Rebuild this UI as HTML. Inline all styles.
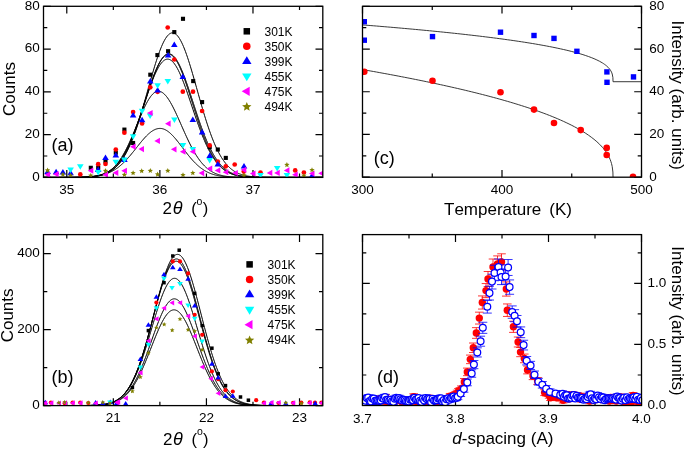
<!DOCTYPE html><html><head><meta charset="utf-8"><style>html,body{margin:0;padding:0;background:#fff;overflow:hidden}svg{display:block;will-change:transform}text{font-family:"Liberation Sans",sans-serif;fill:#000;font-kerning:none}</style></head><body>
<svg width="685" height="449" viewBox="0 0 685 449">
<defs>
<clipPath id="ca"><rect x="43.5" y="6.3" width="279.30" height="171.10"/></clipPath>
<clipPath id="cb"><rect x="43.5" y="234.6" width="279.30" height="171.00"/></clipPath>
<clipPath id="cc"><rect x="362.5" y="6.3" width="279.00" height="170.90"/></clipPath>
<clipPath id="cd"><rect x="362.5" y="234.6" width="279.00" height="170.90"/></clipPath>
</defs>
<rect width="685" height="449" fill="#fff"/>
<path d="M66.78 177.40v-7.3M66.78 6.30v7.3M159.88 177.40v-7.3M159.88 6.30v7.3M252.98 177.40v-7.3M252.98 6.30v7.3M113.33 177.40v-3.8M113.33 6.30v3.8M206.43 177.40v-3.8M206.43 6.30v3.8M299.52 177.40v-3.8M299.52 6.30v3.8M43.50 177.40h7.3M322.80 177.40h-7.3M43.50 134.62h7.3M322.80 134.62h-7.3M43.50 91.85h7.3M322.80 91.85h-7.3M43.50 49.08h7.3M322.80 49.08h-7.3M43.50 6.30h7.3M322.80 6.30h-7.3M43.50 156.01h3.8M322.80 156.01h-3.8M43.50 113.24h3.8M322.80 113.24h-3.8M43.50 70.46h3.8M322.80 70.46h-3.8M43.50 27.69h3.8M322.80 27.69h-3.8" stroke="#000" stroke-width="1.2" fill="none"/>
<path d="M43.50 177.40L44.50 177.40L45.50 177.40L46.50 177.40L47.50 177.40L48.50 177.40L49.50 177.40L50.50 177.40L51.50 177.40L52.50 177.40L53.50 177.40L54.50 177.40L55.50 177.40L56.50 177.40L57.50 177.40L58.50 177.40L59.50 177.40L60.50 177.40L61.50 177.39L62.50 177.39L63.50 177.39L64.50 177.39L65.50 177.39L66.50 177.39L67.50 177.38L68.50 177.38L69.50 177.38L70.50 177.37L71.50 177.37L72.50 177.36L73.50 177.36L74.50 177.35L75.50 177.34L76.50 177.33L77.50 177.32L78.50 177.30L79.50 177.29L80.50 177.27L81.50 177.25L82.50 177.22L83.50 177.19L84.50 177.16L85.50 177.12L86.50 177.08L87.50 177.03L88.50 176.98L89.50 176.91L90.50 176.84L91.50 176.76L92.50 176.67L93.50 176.57L94.50 176.45L95.50 176.32L96.50 176.18L97.50 176.01L98.50 175.83L99.50 175.63L100.50 175.40L101.50 175.15L102.50 174.88L103.50 174.57L104.50 174.23L105.50 173.86L106.50 173.45L107.50 172.99L108.50 172.50L109.50 171.96L110.50 171.36L111.50 170.72L112.50 170.02L113.50 169.25L114.50 168.43L115.50 167.53L116.50 166.57L117.50 165.52L118.50 164.41L119.50 163.20L120.50 161.92L121.50 160.54L122.50 159.08L123.50 157.51L124.50 155.85L125.50 154.09L126.50 152.23L127.50 150.27L128.50 148.20L129.50 146.02L130.50 143.74L131.50 141.35L132.50 138.85L133.50 136.25L134.50 133.55L135.50 130.75L136.50 127.85L137.50 124.85L138.50 121.77L139.50 118.60L140.50 115.36L141.50 112.05L142.50 108.67L143.50 105.23L144.50 101.75L145.50 98.24L146.50 94.69L147.50 91.13L148.50 87.57L149.50 84.01L150.50 80.48L151.50 76.97L152.50 73.51L153.50 70.11L154.50 66.78L155.50 63.53L156.50 60.38L157.50 57.35L158.50 54.44L159.50 51.66L160.50 49.04L161.50 46.58L162.50 44.29L163.50 42.18L164.50 40.27L165.50 38.56L166.50 37.06L167.50 35.78L168.50 34.72L169.50 33.89L170.50 33.30L171.50 32.94L172.50 32.82L173.50 32.94L174.50 33.30L175.50 33.89L176.50 34.72L177.50 35.78L178.50 37.06L179.50 38.56L180.50 40.27L181.50 42.18L182.50 44.29L183.50 46.58L184.50 49.04L185.50 51.66L186.50 54.44L187.50 57.35L188.50 60.38L189.50 63.53L190.50 66.78L191.50 70.11L192.50 73.51L193.50 76.97L194.50 80.48L195.50 84.01L196.50 87.57L197.50 91.13L198.50 94.69L199.50 98.24L200.50 101.75L201.50 105.23L202.50 108.67L203.50 112.05L204.50 115.36L205.50 118.60L206.50 121.77L207.50 124.85L208.50 127.85L209.50 130.75L210.50 133.55L211.50 136.25L212.50 138.85L213.50 141.35L214.50 143.74L215.50 146.02L216.50 148.20L217.50 150.27L218.50 152.23L219.50 154.09L220.50 155.85L221.50 157.51L222.50 159.08L223.50 160.54L224.50 161.92L225.50 163.20L226.50 164.41L227.50 165.52L228.50 166.57L229.50 167.53L230.50 168.43L231.50 169.25L232.50 170.02L233.50 170.72L234.50 171.36L235.50 171.96L236.50 172.50L237.50 172.99L238.50 173.45L239.50 173.86L240.50 174.23L241.50 174.57L242.50 174.88L243.50 175.15L244.50 175.40L245.50 175.63L246.50 175.83L247.50 176.01L248.50 176.18L249.50 176.32L250.50 176.45L251.50 176.57L252.50 176.67L253.50 176.76L254.50 176.84L255.50 176.91L256.50 176.98L257.50 177.03L258.50 177.08L259.50 177.12L260.50 177.16L261.50 177.19L262.50 177.22L263.50 177.25L264.50 177.27L265.50 177.29L266.50 177.30L267.50 177.32L268.50 177.33L269.50 177.34L270.50 177.35L271.50 177.36L272.50 177.36L273.50 177.37L274.50 177.37L275.50 177.38L276.50 177.38L277.50 177.38L278.50 177.39L279.50 177.39L280.50 177.39L281.50 177.39L282.50 177.39L283.50 177.39L284.50 177.40L285.50 177.40L286.50 177.40L287.50 177.40L288.50 177.40L289.50 177.40L290.50 177.40L291.50 177.40L292.50 177.40L293.50 177.40L294.50 177.40L295.50 177.40L296.50 177.40L297.50 177.40L298.50 177.40L299.50 177.40L300.50 177.40L301.50 177.40L302.50 177.40L303.50 177.40L304.50 177.40L305.50 177.40L306.50 177.40L307.50 177.40L308.50 177.40L309.50 177.40L310.50 177.40L311.50 177.40L312.50 177.40L313.50 177.40L314.50 177.40L315.50 177.40L316.50 177.40L317.50 177.40L318.50 177.40L319.50 177.40L320.50 177.40L321.50 177.40L322.50 177.40M43.50 177.40L44.50 177.40L45.50 177.40L46.50 177.40L47.50 177.40L48.50 177.40L49.50 177.40L50.50 177.40L51.50 177.40L52.50 177.40L53.50 177.40L54.50 177.40L55.50 177.40L56.50 177.40L57.50 177.40L58.50 177.40L59.50 177.40L60.50 177.39L61.50 177.39L62.50 177.39L63.50 177.39L64.50 177.39L65.50 177.39L66.50 177.38L67.50 177.38L68.50 177.38L69.50 177.37L70.50 177.37L71.50 177.36L72.50 177.35L73.50 177.34L74.50 177.33L75.50 177.32L76.50 177.31L77.50 177.29L78.50 177.28L79.50 177.26L80.50 177.23L81.50 177.21L82.50 177.17L83.50 177.14L84.50 177.10L85.50 177.05L86.50 177.00L87.50 176.94L88.50 176.87L89.50 176.80L90.50 176.71L91.50 176.62L92.50 176.51L93.50 176.38L94.50 176.25L95.50 176.09L96.50 175.92L97.50 175.73L98.50 175.52L99.50 175.28L100.50 175.02L101.50 174.73L102.50 174.41L103.50 174.06L104.50 173.67L105.50 173.24L106.50 172.78L107.50 172.27L108.50 171.71L109.50 171.11L110.50 170.45L111.50 169.73L112.50 168.96L113.50 168.12L114.50 167.22L115.50 166.25L116.50 165.20L117.50 164.09L118.50 162.89L119.50 161.61L120.50 160.25L121.50 158.81L122.50 157.27L123.50 155.65L124.50 153.94L125.50 152.13L126.50 150.23L127.50 148.24L128.50 146.15L129.50 143.97L130.50 141.70L131.50 139.34L132.50 136.89L133.50 134.36L134.50 131.75L135.50 129.06L136.50 126.30L137.50 123.47L138.50 120.58L139.50 117.64L140.50 114.66L141.50 111.63L142.50 108.58L143.50 105.50L144.50 102.42L145.50 99.34L146.50 96.26L147.50 93.21L148.50 90.19L149.50 87.22L150.50 84.30L151.50 81.45L152.50 78.69L153.50 76.01L154.50 73.43L155.50 70.98L156.50 68.64L157.50 66.45L158.50 64.40L159.50 62.51L160.50 60.79L161.50 59.23L162.50 57.87L163.50 56.69L164.50 55.70L165.50 54.91L166.50 54.33L167.50 53.96L168.50 53.79L169.50 53.83L170.50 54.08L171.50 54.54L172.50 55.20L173.50 56.07L174.50 57.13L175.50 58.39L176.50 59.83L177.50 61.45L178.50 63.25L179.50 65.20L180.50 67.31L181.50 69.56L182.50 71.95L183.50 74.45L184.50 77.07L185.50 79.78L186.50 82.58L187.50 85.46L188.50 88.40L189.50 91.40L190.50 94.43L191.50 97.49L192.50 100.57L193.50 103.65L194.50 106.74L195.50 109.80L196.50 112.85L197.50 115.86L198.50 118.83L199.50 121.75L200.50 124.61L201.50 127.41L202.50 130.14L203.50 132.80L204.50 135.38L205.50 137.88L206.50 140.30L207.50 142.62L208.50 144.85L209.50 147.00L210.50 149.05L211.50 151.00L212.50 152.86L213.50 154.63L214.50 156.31L215.50 157.90L216.50 159.40L217.50 160.81L218.50 162.13L219.50 163.38L220.50 164.54L221.50 165.63L222.50 166.64L223.50 167.59L224.50 168.46L225.50 169.27L226.50 170.02L227.50 170.72L228.50 171.35L229.50 171.94L230.50 172.48L231.50 172.97L232.50 173.42L233.50 173.83L234.50 174.20L235.50 174.54L236.50 174.85L237.50 175.13L238.50 175.38L239.50 175.61L240.50 175.81L241.50 175.99L242.50 176.16L243.50 176.30L244.50 176.43L245.50 176.55L246.50 176.66L247.50 176.75L248.50 176.83L249.50 176.90L250.50 176.97L251.50 177.02L252.50 177.07L253.50 177.12L254.50 177.15L255.50 177.19L256.50 177.22L257.50 177.24L258.50 177.26L259.50 177.28L260.50 177.30L261.50 177.31L262.50 177.33L263.50 177.34L264.50 177.35L265.50 177.35L266.50 177.36L267.50 177.37L268.50 177.37L269.50 177.38L270.50 177.38L271.50 177.38L272.50 177.39L273.50 177.39L274.50 177.39L275.50 177.39L276.50 177.39L277.50 177.39L278.50 177.40L279.50 177.40L280.50 177.40L281.50 177.40L282.50 177.40L283.50 177.40L284.50 177.40L285.50 177.40L286.50 177.40L287.50 177.40L288.50 177.40L289.50 177.40L290.50 177.40L291.50 177.40L292.50 177.40L293.50 177.40L294.50 177.40L295.50 177.40L296.50 177.40L297.50 177.40L298.50 177.40L299.50 177.40L300.50 177.40L301.50 177.40L302.50 177.40L303.50 177.40L304.50 177.40L305.50 177.40L306.50 177.40L307.50 177.40L308.50 177.40L309.50 177.40L310.50 177.40L311.50 177.40L312.50 177.40L313.50 177.40L314.50 177.40L315.50 177.40L316.50 177.40L317.50 177.40L318.50 177.40L319.50 177.40L320.50 177.40L321.50 177.40L322.50 177.40M43.50 177.40L44.50 177.40L45.50 177.40L46.50 177.40L47.50 177.40L48.50 177.40L49.50 177.40L50.50 177.40L51.50 177.40L52.50 177.40L53.50 177.40L54.50 177.40L55.50 177.40L56.50 177.40L57.50 177.40L58.50 177.40L59.50 177.40L60.50 177.40L61.50 177.40L62.50 177.39L63.50 177.39L64.50 177.39L65.50 177.39L66.50 177.39L67.50 177.39L68.50 177.38L69.50 177.38L70.50 177.38L71.50 177.37L72.50 177.37L73.50 177.36L74.50 177.35L75.50 177.35L76.50 177.34L77.50 177.32L78.50 177.31L79.50 177.29L80.50 177.28L81.50 177.26L82.50 177.23L83.50 177.20L84.50 177.17L85.50 177.14L86.50 177.09L87.50 177.05L88.50 176.99L89.50 176.93L90.50 176.86L91.50 176.78L92.50 176.69L93.50 176.59L94.50 176.47L95.50 176.34L96.50 176.20L97.50 176.03L98.50 175.85L99.50 175.64L100.50 175.42L101.50 175.16L102.50 174.88L103.50 174.57L104.50 174.22L105.50 173.84L106.50 173.42L107.50 172.96L108.50 172.45L109.50 171.90L110.50 171.30L111.50 170.64L112.50 169.92L113.50 169.14L114.50 168.30L115.50 167.39L116.50 166.40L117.50 165.35L118.50 164.21L119.50 162.99L120.50 161.69L121.50 160.30L122.50 158.82L123.50 157.25L124.50 155.59L125.50 153.83L126.50 151.97L127.50 150.01L128.50 147.96L129.50 145.81L130.50 143.56L131.50 141.22L132.50 138.78L133.50 136.26L134.50 133.64L135.50 130.95L136.50 128.17L137.50 125.32L138.50 122.41L139.50 119.43L140.50 116.40L141.50 113.33L142.50 110.22L143.50 107.09L144.50 103.94L145.50 100.79L146.50 97.64L147.50 94.52L148.50 91.42L149.50 88.37L150.50 85.37L151.50 82.44L152.50 79.59L153.50 76.84L154.50 74.19L155.50 71.66L156.50 69.26L157.50 67.00L158.50 64.90L159.50 62.96L160.50 61.20L161.50 59.61L162.50 58.22L163.50 57.03L164.50 56.04L165.50 55.26L166.50 54.69L167.50 54.34L168.50 54.21L169.50 54.30L170.50 54.60L171.50 55.13L172.50 55.86L173.50 56.81L174.50 57.97L175.50 59.32L176.50 60.87L177.50 62.60L178.50 64.50L179.50 66.57L180.50 68.80L181.50 71.17L182.50 73.67L183.50 76.30L184.50 79.03L185.50 81.86L186.50 84.78L187.50 87.76L188.50 90.81L189.50 93.89L190.50 97.02L191.50 100.16L192.50 103.31L193.50 106.46L194.50 109.60L195.50 112.71L196.50 115.79L197.50 118.83L198.50 121.81L199.50 124.74L200.50 127.61L201.50 130.40L202.50 133.11L203.50 135.74L204.50 138.29L205.50 140.74L206.50 143.10L207.50 145.37L208.50 147.54L209.50 149.61L210.50 151.59L211.50 153.46L212.50 155.24L213.50 156.93L214.50 158.52L215.50 160.01L216.50 161.42L217.50 162.74L218.50 163.97L219.50 165.13L220.50 166.20L221.50 167.20L222.50 168.12L223.50 168.98L224.50 169.77L225.50 170.50L226.50 171.17L227.50 171.78L228.50 172.35L229.50 172.86L230.50 173.33L231.50 173.76L232.50 174.15L233.50 174.50L234.50 174.82L235.50 175.11L236.50 175.37L237.50 175.60L238.50 175.81L239.50 176.00L240.50 176.16L241.50 176.31L242.50 176.45L243.50 176.56L244.50 176.67L245.50 176.76L246.50 176.84L247.50 176.92L248.50 176.98L249.50 177.04L250.50 177.09L251.50 177.13L252.50 177.17L253.50 177.20L254.50 177.23L255.50 177.25L256.50 177.27L257.50 177.29L258.50 177.31L259.50 177.32L260.50 177.33L261.50 177.34L262.50 177.35L263.50 177.36L264.50 177.37L265.50 177.37L266.50 177.38L267.50 177.38L268.50 177.38L269.50 177.39L270.50 177.39L271.50 177.39L272.50 177.39L273.50 177.39L274.50 177.39L275.50 177.40L276.50 177.40L277.50 177.40L278.50 177.40L279.50 177.40L280.50 177.40L281.50 177.40L282.50 177.40L283.50 177.40L284.50 177.40L285.50 177.40L286.50 177.40L287.50 177.40L288.50 177.40L289.50 177.40L290.50 177.40L291.50 177.40L292.50 177.40L293.50 177.40L294.50 177.40L295.50 177.40L296.50 177.40L297.50 177.40L298.50 177.40L299.50 177.40L300.50 177.40L301.50 177.40L302.50 177.40L303.50 177.40L304.50 177.40L305.50 177.40L306.50 177.40L307.50 177.40L308.50 177.40L309.50 177.40L310.50 177.40L311.50 177.40L312.50 177.40L313.50 177.40L314.50 177.40L315.50 177.40L316.50 177.40L317.50 177.40L318.50 177.40L319.50 177.40L320.50 177.40L321.50 177.40L322.50 177.40M43.50 177.40L44.50 177.40L45.50 177.40L46.50 177.40L47.50 177.40L48.50 177.40L49.50 177.40L50.50 177.40L51.50 177.40L52.50 177.40L53.50 177.40L54.50 177.40L55.50 177.40L56.50 177.40L57.50 177.40L58.50 177.40L59.50 177.39L60.50 177.39L61.50 177.39L62.50 177.39L63.50 177.39L64.50 177.39L65.50 177.39L66.50 177.38L67.50 177.38L68.50 177.37L69.50 177.37L70.50 177.36L71.50 177.36L72.50 177.35L73.50 177.34L74.50 177.33L75.50 177.32L76.50 177.31L77.50 177.29L78.50 177.27L79.50 177.25L80.50 177.23L81.50 177.20L82.50 177.17L83.50 177.13L84.50 177.09L85.50 177.04L86.50 176.99L87.50 176.93L88.50 176.86L89.50 176.78L90.50 176.69L91.50 176.59L92.50 176.48L93.50 176.35L94.50 176.21L95.50 176.05L96.50 175.88L97.50 175.68L98.50 175.46L99.50 175.22L100.50 174.95L101.50 174.65L102.50 174.32L103.50 173.96L104.50 173.56L105.50 173.12L106.50 172.64L107.50 172.12L108.50 171.55L109.50 170.93L110.50 170.26L111.50 169.53L112.50 168.73L113.50 167.88L114.50 166.96L115.50 165.97L116.50 164.91L117.50 163.77L118.50 162.56L119.50 161.26L120.50 159.88L121.50 158.42L122.50 156.87L123.50 155.23L124.50 153.50L125.50 151.68L126.50 149.77L127.50 147.77L128.50 145.68L129.50 143.50L130.50 141.24L131.50 138.88L132.50 136.45L133.50 133.93L134.50 131.35L135.50 128.69L136.50 125.96L137.50 123.18L138.50 120.35L139.50 117.47L140.50 114.55L141.50 111.60L142.50 108.64L143.50 105.66L144.50 102.69L145.50 99.72L146.50 96.78L147.50 93.87L148.50 91.00L149.50 88.19L150.50 85.45L151.50 82.78L152.50 80.21L153.50 77.73L154.50 75.37L155.50 73.13L156.50 71.03L157.50 69.07L158.50 67.27L159.50 65.62L160.50 64.15L161.50 62.86L162.50 61.75L163.50 60.83L164.50 60.10L165.50 59.58L166.50 59.25L167.50 59.13L168.50 59.21L169.50 59.49L170.50 59.98L171.50 60.67L172.50 61.55L173.50 62.62L174.50 63.88L175.50 65.31L176.50 66.92L177.50 68.70L178.50 70.63L179.50 72.70L180.50 74.91L181.50 77.25L182.50 79.70L183.50 82.26L184.50 84.91L185.50 87.64L186.50 90.44L187.50 93.29L188.50 96.20L189.50 99.13L190.50 102.09L191.50 105.07L192.50 108.04L193.50 111.01L194.50 113.96L195.50 116.89L196.50 119.77L197.50 122.62L198.50 125.41L199.50 128.15L200.50 130.82L201.50 133.42L202.50 135.95L203.50 138.40L204.50 140.77L205.50 143.06L206.50 145.25L207.50 147.36L208.50 149.38L209.50 151.31L210.50 153.14L211.50 154.89L212.50 156.55L213.50 158.12L214.50 159.60L215.50 160.99L216.50 162.30L217.50 163.53L218.50 164.69L219.50 165.76L220.50 166.77L221.50 167.70L222.50 168.57L223.50 169.37L224.50 170.11L225.50 170.80L226.50 171.43L227.50 172.01L228.50 172.54L229.50 173.03L230.50 173.48L231.50 173.88L232.50 174.25L233.50 174.59L234.50 174.89L235.50 175.17L236.50 175.41L237.50 175.64L238.50 175.84L239.50 176.02L240.50 176.18L241.50 176.33L242.50 176.45L243.50 176.57L244.50 176.67L245.50 176.76L246.50 176.84L247.50 176.91L248.50 176.98L249.50 177.03L250.50 177.08L251.50 177.12L252.50 177.16L253.50 177.19L254.50 177.22L255.50 177.25L256.50 177.27L257.50 177.29L258.50 177.30L259.50 177.32L260.50 177.33L261.50 177.34L262.50 177.35L263.50 177.36L264.50 177.36L265.50 177.37L266.50 177.37L267.50 177.38L268.50 177.38L269.50 177.38L270.50 177.39L271.50 177.39L272.50 177.39L273.50 177.39L274.50 177.39L275.50 177.39L276.50 177.40L277.50 177.40L278.50 177.40L279.50 177.40L280.50 177.40L281.50 177.40L282.50 177.40L283.50 177.40L284.50 177.40L285.50 177.40L286.50 177.40L287.50 177.40L288.50 177.40L289.50 177.40L290.50 177.40L291.50 177.40L292.50 177.40L293.50 177.40L294.50 177.40L295.50 177.40L296.50 177.40L297.50 177.40L298.50 177.40L299.50 177.40L300.50 177.40L301.50 177.40L302.50 177.40L303.50 177.40L304.50 177.40L305.50 177.40L306.50 177.40L307.50 177.40L308.50 177.40L309.50 177.40L310.50 177.40L311.50 177.40L312.50 177.40L313.50 177.40L314.50 177.40L315.50 177.40L316.50 177.40L317.50 177.40L318.50 177.40L319.50 177.40L320.50 177.40L321.50 177.40L322.50 177.40M43.50 177.40L44.50 177.40L45.50 177.40L46.50 177.40L47.50 177.40L48.50 177.40L49.50 177.40L50.50 177.40L51.50 177.40L52.50 177.40L53.50 177.40L54.50 177.40L55.50 177.40L56.50 177.40L57.50 177.40L58.50 177.40L59.50 177.40L60.50 177.40L61.50 177.40L62.50 177.40L63.50 177.39L64.50 177.39L65.50 177.39L66.50 177.39L67.50 177.39L68.50 177.39L69.50 177.38L70.50 177.38L71.50 177.38L72.50 177.37L73.50 177.36L74.50 177.36L75.50 177.35L76.50 177.34L77.50 177.33L78.50 177.31L79.50 177.30L80.50 177.28L81.50 177.25L82.50 177.23L83.50 177.20L84.50 177.16L85.50 177.12L86.50 177.07L87.50 177.02L88.50 176.96L89.50 176.88L90.50 176.80L91.50 176.71L92.50 176.60L93.50 176.48L94.50 176.34L95.50 176.19L96.50 176.02L97.50 175.82L98.50 175.60L99.50 175.35L100.50 175.08L101.50 174.77L102.50 174.43L103.50 174.05L104.50 173.63L105.50 173.17L106.50 172.67L107.50 172.11L108.50 171.51L109.50 170.84L110.50 170.12L111.50 169.34L112.50 168.49L113.50 167.57L114.50 166.58L115.50 165.52L116.50 164.38L117.50 163.16L118.50 161.86L119.50 160.49L120.50 159.02L121.50 157.48L122.50 155.85L123.50 154.14L124.50 152.35L125.50 150.48L126.50 148.53L127.50 146.51L128.50 144.42L129.50 142.26L130.50 140.04L131.50 137.77L132.50 135.45L133.50 133.09L134.50 130.69L135.50 128.28L136.50 125.85L137.50 123.42L138.50 121.00L139.50 118.59L140.50 116.22L141.50 113.88L142.50 111.60L143.50 109.39L144.50 107.25L145.50 105.21L146.50 103.26L147.50 101.42L148.50 99.71L149.50 98.13L150.50 96.70L151.50 95.41L152.50 94.29L153.50 93.33L154.50 92.54L155.50 91.94L156.50 91.51L157.50 91.27L158.50 91.21L159.50 91.33L160.50 91.60L161.50 92.04L162.50 92.63L163.50 93.38L164.50 94.28L165.50 95.33L166.50 96.52L167.50 97.84L168.50 99.28L169.50 100.84L170.50 102.52L171.50 104.30L172.50 106.16L173.50 108.12L174.50 110.14L175.50 112.23L176.50 114.38L177.50 116.57L178.50 118.79L179.50 121.04L180.50 123.30L181.50 125.58L182.50 127.85L183.50 130.11L184.50 132.35L185.50 134.57L186.50 136.75L187.50 138.90L188.50 141.00L189.50 143.05L190.50 145.05L191.50 146.99L192.50 148.87L193.50 150.68L194.50 152.42L195.50 154.10L196.50 155.70L197.50 157.23L198.50 158.69L199.50 160.07L200.50 161.39L201.50 162.63L202.50 163.80L203.50 164.90L204.50 165.94L205.50 166.91L206.50 167.81L207.50 168.65L208.50 169.44L209.50 170.17L210.50 170.84L211.50 171.46L212.50 172.03L213.50 172.56L214.50 173.05L215.50 173.49L216.50 173.89L217.50 174.26L218.50 174.60L219.50 174.90L220.50 175.17L221.50 175.42L222.50 175.65L223.50 175.85L224.50 176.03L225.50 176.19L226.50 176.34L227.50 176.47L228.50 176.58L229.50 176.68L230.50 176.78L231.50 176.86L232.50 176.93L233.50 176.99L234.50 177.04L235.50 177.09L236.50 177.13L237.50 177.17L238.50 177.20L239.50 177.23L240.50 177.25L241.50 177.28L242.50 177.29L243.50 177.31L244.50 177.32L245.50 177.33L246.50 177.34L247.50 177.35L248.50 177.36L249.50 177.37L250.50 177.37L251.50 177.38L252.50 177.38L253.50 177.38L254.50 177.39L255.50 177.39L256.50 177.39L257.50 177.39L258.50 177.39L259.50 177.39L260.50 177.40L261.50 177.40L262.50 177.40L263.50 177.40L264.50 177.40L265.50 177.40L266.50 177.40L267.50 177.40L268.50 177.40L269.50 177.40L270.50 177.40L271.50 177.40L272.50 177.40L273.50 177.40L274.50 177.40L275.50 177.40L276.50 177.40L277.50 177.40L278.50 177.40L279.50 177.40L280.50 177.40L281.50 177.40L282.50 177.40L283.50 177.40L284.50 177.40L285.50 177.40L286.50 177.40L287.50 177.40L288.50 177.40L289.50 177.40L290.50 177.40L291.50 177.40L292.50 177.40L293.50 177.40L294.50 177.40L295.50 177.40L296.50 177.40L297.50 177.40L298.50 177.40L299.50 177.40L300.50 177.40L301.50 177.40L302.50 177.40L303.50 177.40L304.50 177.40L305.50 177.40L306.50 177.40L307.50 177.40L308.50 177.40L309.50 177.40L310.50 177.40L311.50 177.40L312.50 177.40L313.50 177.40L314.50 177.40L315.50 177.40L316.50 177.40L317.50 177.40L318.50 177.40L319.50 177.40L320.50 177.40L321.50 177.40L322.50 177.40M43.50 177.40L44.50 177.40L45.50 177.40L46.50 177.40L47.50 177.40L48.50 177.40L49.50 177.40L50.50 177.40L51.50 177.40L52.50 177.40L53.50 177.40L54.50 177.40L55.50 177.40L56.50 177.40L57.50 177.40L58.50 177.40L59.50 177.39L60.50 177.39L61.50 177.39L62.50 177.39L63.50 177.39L64.50 177.39L65.50 177.38L66.50 177.38L67.50 177.38L68.50 177.37L69.50 177.37L70.50 177.37L71.50 177.36L72.50 177.35L73.50 177.34L74.50 177.33L75.50 177.32L76.50 177.31L77.50 177.30L78.50 177.28L79.50 177.26L80.50 177.24L81.50 177.22L82.50 177.19L83.50 177.16L84.50 177.12L85.50 177.08L86.50 177.03L87.50 176.98L88.50 176.92L89.50 176.86L90.50 176.78L91.50 176.70L92.50 176.61L93.50 176.51L94.50 176.39L95.50 176.27L96.50 176.13L97.50 175.97L98.50 175.80L99.50 175.62L100.50 175.41L101.50 175.19L102.50 174.95L103.50 174.68L104.50 174.39L105.50 174.07L106.50 173.73L107.50 173.36L108.50 172.96L109.50 172.53L110.50 172.07L111.50 171.58L112.50 171.05L113.50 170.49L114.50 169.88L115.50 169.25L116.50 168.57L117.50 167.86L118.50 167.10L119.50 166.31L120.50 165.47L121.50 164.60L122.50 163.69L123.50 162.74L124.50 161.75L125.50 160.73L126.50 159.67L127.50 158.58L128.50 157.45L129.50 156.30L130.50 155.13L131.50 153.92L132.50 152.70L133.50 151.47L134.50 150.22L135.50 148.96L136.50 147.69L137.50 146.43L138.50 145.17L139.50 143.92L140.50 142.69L141.50 141.47L142.50 140.28L143.50 139.12L144.50 138.00L145.50 136.91L146.50 135.87L147.50 134.88L148.50 133.95L149.50 133.08L150.50 132.27L151.50 131.52L152.50 130.85L153.50 130.26L154.50 129.75L155.50 129.31L156.50 128.96L157.50 128.70L158.50 128.52L159.50 128.43L160.50 128.43L161.50 128.53L162.50 128.72L163.50 129.01L164.50 129.39L165.50 129.86L166.50 130.42L167.50 131.07L168.50 131.80L169.50 132.60L170.50 133.48L171.50 134.42L172.50 135.43L173.50 136.49L174.50 137.61L175.50 138.77L176.50 139.97L177.50 141.21L178.50 142.47L179.50 143.76L180.50 145.06L181.50 146.37L182.50 147.69L183.50 149.01L184.50 150.33L185.50 151.63L186.50 152.92L187.50 154.19L188.50 155.44L189.50 156.66L190.50 157.86L191.50 159.02L192.50 160.14L193.50 161.23L194.50 162.28L195.50 163.29L196.50 164.26L197.50 165.19L198.50 166.07L199.50 166.91L200.50 167.71L201.50 168.46L202.50 169.17L203.50 169.84L204.50 170.47L205.50 171.06L206.50 171.61L207.50 172.13L208.50 172.60L209.50 173.04L210.50 173.45L211.50 173.83L212.50 174.18L213.50 174.50L214.50 174.79L215.50 175.06L216.50 175.31L217.50 175.53L218.50 175.73L219.50 175.92L220.50 176.08L221.50 176.23L222.50 176.37L223.50 176.49L224.50 176.60L225.50 176.69L226.50 176.78L227.50 176.86L228.50 176.92L229.50 176.98L230.50 177.04L231.50 177.09L232.50 177.13L233.50 177.16L234.50 177.20L235.50 177.22L236.50 177.25L237.50 177.27L238.50 177.29L239.50 177.30L240.50 177.32L241.50 177.33L242.50 177.34L243.50 177.35L244.50 177.36L245.50 177.36L246.50 177.37L247.50 177.37L248.50 177.38L249.50 177.38L250.50 177.38L251.50 177.39L252.50 177.39L253.50 177.39L254.50 177.39L255.50 177.39L256.50 177.40L257.50 177.40L258.50 177.40L259.50 177.40L260.50 177.40L261.50 177.40L262.50 177.40L263.50 177.40L264.50 177.40L265.50 177.40L266.50 177.40L267.50 177.40L268.50 177.40L269.50 177.40L270.50 177.40L271.50 177.40L272.50 177.40L273.50 177.40L274.50 177.40L275.50 177.40L276.50 177.40L277.50 177.40L278.50 177.40L279.50 177.40L280.50 177.40L281.50 177.40L282.50 177.40L283.50 177.40L284.50 177.40L285.50 177.40L286.50 177.40L287.50 177.40L288.50 177.40L289.50 177.40L290.50 177.40L291.50 177.40L292.50 177.40L293.50 177.40L294.50 177.40L295.50 177.40L296.50 177.40L297.50 177.40L298.50 177.40L299.50 177.40L300.50 177.40L301.50 177.40L302.50 177.40L303.50 177.40L304.50 177.40L305.50 177.40L306.50 177.40L307.50 177.40L308.50 177.40L309.50 177.40L310.50 177.40L311.50 177.40L312.50 177.40L313.50 177.40L314.50 177.40L315.50 177.40L316.50 177.40L317.50 177.40L318.50 177.40L319.50 177.40L320.50 177.40L321.50 177.40L322.50 177.40" fill="none" stroke="#000" stroke-width="1.0" clip-path="url(#ca)"/>
<g clip-path="url(#ca)"><rect x="88.75" y="165.75" width="4.10" height="4.10" fill="#000"/><rect x="96.15" y="165.55" width="4.10" height="4.10" fill="#000"/><rect x="103.45" y="159.45" width="4.10" height="4.10" fill="#000"/><rect x="113.75" y="150.65" width="4.10" height="4.10" fill="#000"/><rect x="122.35" y="127.55" width="4.10" height="4.10" fill="#000"/><rect x="131.05" y="140.95" width="4.10" height="4.10" fill="#000"/><rect x="148.25" y="72.65" width="4.10" height="4.10" fill="#000"/><rect x="155.35" y="53.05" width="4.10" height="4.10" fill="#000"/><rect x="166.05" y="49.15" width="4.10" height="4.10" fill="#000"/><rect x="172.25" y="30.05" width="4.10" height="4.10" fill="#000"/><rect x="180.95" y="16.75" width="4.10" height="4.10" fill="#000"/><rect x="191.15" y="79.05" width="4.10" height="4.10" fill="#000"/><rect x="200.05" y="100.05" width="4.10" height="4.10" fill="#000"/><rect x="207.65" y="145.15" width="4.10" height="4.10" fill="#000"/><rect x="215.75" y="147.45" width="4.10" height="4.10" fill="#000"/><rect x="223.75" y="155.85" width="4.10" height="4.10" fill="#000"/><circle cx="80.30" cy="174.40" r="2.35" fill="#f00"/><circle cx="98.20" cy="164.20" r="2.35" fill="#f00"/><circle cx="105.50" cy="164.00" r="2.35" fill="#f00"/><circle cx="115.80" cy="149.50" r="2.35" fill="#f00"/><circle cx="124.40" cy="132.70" r="2.35" fill="#f00"/><circle cx="133.10" cy="112.00" r="2.35" fill="#f00"/><circle cx="142.10" cy="123.50" r="2.35" fill="#f00"/><circle cx="150.30" cy="87.30" r="2.35" fill="#f00"/><circle cx="157.60" cy="91.80" r="2.35" fill="#f00"/><circle cx="167.70" cy="27.50" r="2.35" fill="#f00"/><circle cx="174.30" cy="59.50" r="2.35" fill="#f00"/><circle cx="182.80" cy="91.70" r="2.35" fill="#f00"/><circle cx="193.00" cy="91.70" r="2.35" fill="#f00"/><circle cx="202.10" cy="111.00" r="2.35" fill="#f00"/><circle cx="209.70" cy="145.40" r="2.35" fill="#f00"/><circle cx="217.80" cy="161.50" r="2.35" fill="#f00"/><circle cx="225.80" cy="166.30" r="2.35" fill="#f00"/><circle cx="234.70" cy="164.50" r="2.35" fill="#f00"/><circle cx="243.80" cy="171.60" r="2.35" fill="#f00"/><circle cx="260.50" cy="172.50" r="2.35" fill="#f00"/><circle cx="295.20" cy="170.40" r="2.35" fill="#f00"/><circle cx="303.90" cy="172.50" r="2.35" fill="#f00"/><path d="M47.60 168.47L50.90 173.97L44.30 173.97Z" fill="#00f"/><path d="M56.10 168.67L59.40 174.17L52.80 174.17Z" fill="#00f"/><path d="M62.90 168.97L66.20 174.47L59.60 174.47Z" fill="#00f"/><path d="M70.60 169.67L73.90 175.17L67.30 175.17Z" fill="#00f"/><path d="M98.20 166.57L101.50 172.07L94.90 172.07Z" fill="#00f"/><path d="M105.50 154.57L108.80 160.07L102.20 160.07Z" fill="#00f"/><path d="M115.80 151.97L119.10 157.47L112.50 157.47Z" fill="#00f"/><path d="M124.40 156.38L127.70 161.88L121.10 161.88Z" fill="#00f"/><path d="M133.10 111.97L136.40 117.47L129.80 117.47Z" fill="#00f"/><path d="M142.10 116.67L145.40 122.17L138.80 122.17Z" fill="#00f"/><path d="M150.30 78.07L153.60 83.57L147.00 83.57Z" fill="#00f"/><path d="M157.60 87.07L160.90 92.57L154.30 92.57Z" fill="#00f"/><path d="M168.10 52.08L171.40 57.58L164.80 57.58Z" fill="#00f"/><path d="M174.30 41.58L177.60 47.08L171.00 47.08Z" fill="#00f"/><path d="M182.80 73.57L186.10 79.07L179.50 79.07Z" fill="#00f"/><path d="M192.80 116.38L196.10 121.88L189.50 121.88Z" fill="#00f"/><path d="M202.10 129.07L205.40 134.57L198.80 134.57Z" fill="#00f"/><path d="M209.70 152.57L213.00 158.07L206.40 158.07Z" fill="#00f"/><path d="M217.80 161.07L221.10 166.57L214.50 166.57Z" fill="#00f"/><path d="M244.00 162.97L247.30 168.47L240.70 168.47Z" fill="#00f"/><path d="M312.00 172.38L315.30 177.88L308.70 177.88Z" fill="#00f"/><path d="M70.60 173.12L73.90 167.62L67.30 167.62Z" fill="#0ff"/><path d="M80.30 169.83L83.60 164.33L77.00 164.33Z" fill="#0ff"/><path d="M98.20 175.53L101.50 170.03L94.90 170.03Z" fill="#0ff"/><path d="M115.80 165.33L119.10 159.83L112.50 159.83Z" fill="#0ff"/><path d="M124.40 163.12L127.70 157.62L121.10 157.62Z" fill="#0ff"/><path d="M133.10 139.72L136.40 134.22L129.80 134.22Z" fill="#0ff"/><path d="M142.10 114.23L145.40 108.73L138.80 108.73Z" fill="#0ff"/><path d="M150.10 119.03L153.40 113.53L146.80 113.53Z" fill="#0ff"/><path d="M157.60 88.73L160.90 83.23L154.30 83.23Z" fill="#0ff"/><path d="M167.80 84.43L171.10 78.93L164.50 78.93Z" fill="#0ff"/><path d="M174.40 123.12L177.70 117.62L171.10 117.62Z" fill="#0ff"/><path d="M183.00 148.43L186.30 142.93L179.70 142.93Z" fill="#0ff"/><path d="M192.80 152.53L196.10 147.03L189.50 147.03Z" fill="#0ff"/><path d="M209.70 163.62L213.00 158.12L206.40 158.12Z" fill="#0ff"/><path d="M260.50 178.43L263.80 172.93L257.20 172.93Z" fill="#0ff"/><path d="M277.20 171.53L280.50 166.03L273.90 166.03Z" fill="#0ff"/><path d="M286.90 178.43L290.20 172.93L283.60 172.93Z" fill="#0ff"/><path d="M44.52 174.70L50.12 171.60L50.12 177.80Z" fill="#f0f"/><path d="M53.02 174.20L58.62 171.10L58.62 177.30Z" fill="#f0f"/><path d="M87.72 170.70L93.32 167.60L93.32 173.80Z" fill="#f0f"/><path d="M102.42 174.70L108.02 171.60L108.02 177.80Z" fill="#f0f"/><path d="M112.72 172.80L118.32 169.70L118.32 175.90Z" fill="#f0f"/><path d="M121.32 170.80L126.92 167.70L126.92 173.90Z" fill="#f0f"/><path d="M130.02 146.70L135.62 143.60L135.62 149.80Z" fill="#f0f"/><path d="M138.42 149.10L144.02 146.00L144.02 152.20Z" fill="#f0f"/><path d="M147.02 113.00L152.62 109.90L152.62 116.10Z" fill="#f0f"/><path d="M154.32 140.90L159.92 137.80L159.92 144.00Z" fill="#f0f"/><path d="M165.02 123.70L170.62 120.60L170.62 126.80Z" fill="#f0f"/><path d="M170.92 149.30L176.52 146.20L176.52 152.40Z" fill="#f0f"/><path d="M179.92 151.70L185.52 148.60L185.52 154.80Z" fill="#f0f"/><path d="M189.72 151.70L195.32 148.60L195.32 154.80Z" fill="#f0f"/><path d="M198.62 173.10L204.22 170.00L204.22 176.20Z" fill="#f0f"/><path d="M206.62 168.60L212.22 165.50L212.22 171.70Z" fill="#f0f"/><path d="M214.72 170.40L220.32 167.30L220.32 173.50Z" fill="#f0f"/><path d="M222.72 172.20L228.32 169.10L228.32 175.30Z" fill="#f0f"/><path d="M232.22 173.00L237.82 169.90L237.82 176.10Z" fill="#f0f"/><path d="M240.72 169.80L246.32 166.70L246.32 172.90Z" fill="#f0f"/><path d="M249.92 173.60L255.52 170.50L255.52 176.70Z" fill="#f0f"/><path d="M266.72 172.90L272.32 169.80L272.32 176.00Z" fill="#f0f"/><path d="M274.12 172.90L279.72 169.80L279.72 176.00Z" fill="#f0f"/><path d="M283.82 170.40L289.42 167.30L289.42 173.50Z" fill="#f0f"/><path d="M292.12 174.70L297.72 171.60L297.72 177.80Z" fill="#f0f"/><path d="M308.92 173.50L314.52 170.40L314.52 176.60Z" fill="#f0f"/><path d="M318.22 173.30L323.82 170.20L323.82 176.40Z" fill="#f0f"/><path d="M47.60 167.58L48.34 169.36L50.26 169.51L48.80 170.77L49.25 172.65L47.60 171.64L45.95 172.65L46.40 170.77L44.94 169.51L46.86 169.36Z" fill="#808000"/><path d="M62.90 171.68L63.64 173.46L65.56 173.61L64.10 174.87L64.55 176.75L62.90 175.74L61.25 176.75L61.70 174.87L60.24 173.61L62.16 173.46Z" fill="#808000"/><path d="M70.60 172.78L71.34 174.56L73.26 174.71L71.80 175.97L72.25 177.85L70.60 176.84L68.95 177.85L69.40 175.97L67.94 174.71L69.86 174.56Z" fill="#808000"/><path d="M90.80 172.78L91.54 174.56L93.46 174.71L92.00 175.97L92.45 177.85L90.80 176.84L89.15 177.85L89.60 175.97L88.14 174.71L90.06 174.56Z" fill="#808000"/><path d="M105.50 168.08L106.24 169.86L108.16 170.01L106.70 171.27L107.15 173.15L105.50 172.14L103.85 173.15L104.30 171.27L102.84 170.01L104.76 169.86Z" fill="#808000"/><path d="M124.40 171.98L125.14 173.76L127.06 173.91L125.60 175.17L126.05 177.05L124.40 176.04L122.75 177.05L123.20 175.17L121.74 173.91L123.66 173.76Z" fill="#808000"/><path d="M133.10 170.28L133.84 172.06L135.76 172.21L134.30 173.47L134.75 175.35L133.10 174.34L131.45 175.35L131.90 173.47L130.44 172.21L132.36 172.06Z" fill="#808000"/><path d="M141.70 168.28L142.44 170.06L144.36 170.21L142.90 171.47L143.35 173.35L141.70 172.34L140.05 173.35L140.50 171.47L139.04 170.21L140.96 170.06Z" fill="#808000"/><path d="M150.30 167.98L151.04 169.76L152.96 169.91L151.50 171.17L151.95 173.05L150.30 172.04L148.65 173.05L149.10 171.17L147.64 169.91L149.56 169.76Z" fill="#808000"/><path d="M157.60 171.58L158.34 173.36L160.26 173.51L158.80 174.77L159.25 176.65L157.60 175.64L155.95 176.65L156.40 174.77L154.94 173.51L156.86 173.36Z" fill="#808000"/><path d="M167.80 167.98L168.54 169.76L170.46 169.91L169.00 171.17L169.45 173.05L167.80 172.04L166.15 173.05L166.60 171.17L165.14 169.91L167.06 169.76Z" fill="#808000"/><path d="M183.00 172.28L183.74 174.06L185.66 174.21L184.20 175.47L184.65 177.35L183.00 176.34L181.35 177.35L181.80 175.47L180.34 174.21L182.26 174.06Z" fill="#808000"/><path d="M192.80 170.18L193.54 171.96L195.46 172.11L194.00 173.37L194.45 175.25L192.80 174.24L191.15 175.25L191.60 173.37L190.14 172.11L192.06 171.96Z" fill="#808000"/><path d="M244.00 172.48L244.74 174.26L246.66 174.41L245.20 175.67L245.65 177.55L244.00 176.54L242.35 177.55L242.80 175.67L241.34 174.41L243.26 174.26Z" fill="#808000"/><path d="M286.90 162.08L287.64 163.86L289.56 164.01L288.10 165.27L288.55 167.15L286.90 166.14L285.25 167.15L285.70 165.27L284.24 164.01L286.16 163.86Z" fill="#808000"/><path d="M303.90 172.88L304.64 174.66L306.56 174.81L305.10 176.07L305.55 177.95L303.90 176.94L302.25 177.95L302.70 176.07L301.24 174.81L303.16 174.66Z" fill="#808000"/><path d="M312.00 167.28L312.74 169.06L314.66 169.21L313.20 170.47L313.65 172.35L312.00 171.34L310.35 172.35L310.80 170.47L309.34 169.21L311.26 169.06Z" fill="#808000"/></g>
<rect x="43.5" y="6.3" width="279.30" height="171.10" fill="none" stroke="#000" stroke-width="1.3"/>
<text x="66.78" y="193.80" font-size="13.5" text-anchor="middle" >35</text>
<text x="159.88" y="193.80" font-size="13.5" text-anchor="middle" >36</text>
<text x="252.98" y="193.80" font-size="13.5" text-anchor="middle" >37</text>
<text x="39.80" y="180.80" font-size="13.5" text-anchor="end" >0</text>
<text x="39.80" y="138.03" font-size="13.5" text-anchor="end" >20</text>
<text x="39.80" y="95.25" font-size="13.5" text-anchor="end" >40</text>
<text x="39.80" y="52.48" font-size="13.5" text-anchor="end" >60</text>
<text x="39.80" y="9.70" font-size="13.5" text-anchor="end" >80</text>
<rect x="243.55" y="28.05" width="6.50" height="6.50" fill="#000"/>
<text x="264.50" y="35.60" font-size="12" text-anchor="start" >301K</text>
<circle cx="246.80" cy="46.30" r="3.75" fill="#f00"/>
<text x="264.50" y="50.60" font-size="12" text-anchor="start" >350K</text>
<path d="M246.80 56.31L251.50 64.11L242.10 64.11Z" fill="#00f"/>
<text x="264.50" y="65.60" font-size="12" text-anchor="start" >399K</text>
<path d="M246.80 81.29L251.50 73.49L242.10 73.49Z" fill="#0ff"/>
<text x="264.50" y="80.60" font-size="12" text-anchor="start" >455K</text>
<path d="M241.68 91.30L249.68 86.70L249.68 95.90Z" fill="#f0f"/>
<text x="264.50" y="95.60" font-size="12" text-anchor="start" >475K</text>
<path d="M246.80 101.89L248.10 105.01L251.46 105.28L248.90 107.47L249.68 110.75L246.80 108.99L243.92 110.75L244.70 107.47L242.14 105.28L245.50 105.01Z" fill="#808000"/>
<text x="264.50" y="110.60" font-size="12" text-anchor="start" >494K</text>
<text x="51.40" y="151.20" font-size="18" text-anchor="start" >(a)</text>
<path d="M113.33 405.60v-7.3M113.33 234.60v7.3M206.43 405.60v-7.3M206.43 234.60v7.3M299.52 405.60v-7.3M299.52 234.60v7.3M66.78 405.60v-3.8M66.78 234.60v3.8M159.88 405.60v-3.8M159.88 234.60v3.8M252.98 405.60v-3.8M252.98 234.60v3.8M43.50 405.60h7.3M322.80 405.60h-7.3M43.50 329.60h7.3M322.80 329.60h-7.3M43.50 253.60h7.3M322.80 253.60h-7.3M43.50 367.60h3.8M322.80 367.60h-3.8M43.50 291.60h3.8M322.80 291.60h-3.8" stroke="#000" stroke-width="1.2" fill="none"/>
<path d="M43.50 405.60L44.50 405.60L45.50 405.60L46.50 405.60L47.50 405.60L48.50 405.60L49.50 405.60L50.50 405.60L51.50 405.60L52.50 405.60L53.50 405.60L54.50 405.60L55.50 405.60L56.50 405.60L57.50 405.60L58.50 405.60L59.50 405.60L60.50 405.60L61.50 405.60L62.50 405.60L63.50 405.60L64.50 405.60L65.50 405.60L66.50 405.60L67.50 405.60L68.50 405.60L69.50 405.60L70.50 405.60L71.50 405.59L72.50 405.59L73.50 405.59L74.50 405.59L75.50 405.59L76.50 405.59L77.50 405.58L78.50 405.58L79.50 405.57L80.50 405.57L81.50 405.56L82.50 405.56L83.50 405.55L84.50 405.54L85.50 405.53L86.50 405.52L87.50 405.50L88.50 405.48L89.50 405.46L90.50 405.44L91.50 405.41L92.50 405.38L93.50 405.35L94.50 405.30L95.50 405.26L96.50 405.20L97.50 405.14L98.50 405.07L99.50 404.99L100.50 404.89L101.50 404.79L102.50 404.67L103.50 404.54L104.50 404.39L105.50 404.22L106.50 404.02L107.50 403.81L108.50 403.57L109.50 403.30L110.50 403.00L111.50 402.67L112.50 402.30L113.50 401.89L114.50 401.44L115.50 400.94L116.50 400.39L117.50 399.79L118.50 399.13L119.50 398.41L120.50 397.62L121.50 396.76L122.50 395.82L123.50 394.81L124.50 393.71L125.50 392.53L126.50 391.25L127.50 389.87L128.50 388.40L129.50 386.82L130.50 385.13L131.50 383.33L132.50 381.42L133.50 379.39L134.50 377.24L135.50 374.98L136.50 372.59L137.50 370.07L138.50 367.44L139.50 364.69L140.50 361.81L141.50 358.82L142.50 355.71L143.50 352.50L144.50 349.18L145.50 345.76L146.50 342.24L147.50 338.65L148.50 334.97L149.50 331.23L150.50 327.43L151.50 323.59L152.50 319.72L153.50 315.82L154.50 311.92L155.50 308.02L156.50 304.15L157.50 300.31L158.50 296.53L159.50 292.81L160.50 289.18L161.50 285.65L162.50 282.23L163.50 278.95L164.50 275.82L165.50 272.85L166.50 270.05L167.50 267.45L168.50 265.05L169.50 262.87L170.50 260.92L171.50 259.21L172.50 257.74L173.50 256.54L174.50 255.59L175.50 254.91L176.50 254.50L177.50 254.36L178.50 254.50L179.50 254.91L180.50 255.59L181.50 256.54L182.50 257.74L183.50 259.21L184.50 260.92L185.50 262.87L186.50 265.05L187.50 267.45L188.50 270.05L189.50 272.85L190.50 275.82L191.50 278.95L192.50 282.23L193.50 285.65L194.50 289.18L195.50 292.81L196.50 296.53L197.50 300.31L198.50 304.15L199.50 308.02L200.50 311.92L201.50 315.82L202.50 319.72L203.50 323.59L204.50 327.43L205.50 331.23L206.50 334.97L207.50 338.65L208.50 342.24L209.50 345.76L210.50 349.18L211.50 352.50L212.50 355.71L213.50 358.82L214.50 361.81L215.50 364.69L216.50 367.44L217.50 370.07L218.50 372.59L219.50 374.98L220.50 377.24L221.50 379.39L222.50 381.42L223.50 383.33L224.50 385.13L225.50 386.82L226.50 388.40L227.50 389.87L228.50 391.25L229.50 392.53L230.50 393.71L231.50 394.81L232.50 395.82L233.50 396.76L234.50 397.62L235.50 398.41L236.50 399.13L237.50 399.79L238.50 400.39L239.50 400.94L240.50 401.44L241.50 401.89L242.50 402.30L243.50 402.67L244.50 403.00L245.50 403.30L246.50 403.57L247.50 403.81L248.50 404.02L249.50 404.22L250.50 404.39L251.50 404.54L252.50 404.67L253.50 404.79L254.50 404.89L255.50 404.99L256.50 405.07L257.50 405.14L258.50 405.20L259.50 405.26L260.50 405.30L261.50 405.35L262.50 405.38L263.50 405.41L264.50 405.44L265.50 405.46L266.50 405.48L267.50 405.50L268.50 405.52L269.50 405.53L270.50 405.54L271.50 405.55L272.50 405.56L273.50 405.56L274.50 405.57L275.50 405.57L276.50 405.58L277.50 405.58L278.50 405.59L279.50 405.59L280.50 405.59L281.50 405.59L282.50 405.59L283.50 405.59L284.50 405.60L285.50 405.60L286.50 405.60L287.50 405.60L288.50 405.60L289.50 405.60L290.50 405.60L291.50 405.60L292.50 405.60L293.50 405.60L294.50 405.60L295.50 405.60L296.50 405.60L297.50 405.60L298.50 405.60L299.50 405.60L300.50 405.60L301.50 405.60L302.50 405.60L303.50 405.60L304.50 405.60L305.50 405.60L306.50 405.60L307.50 405.60L308.50 405.60L309.50 405.60L310.50 405.60L311.50 405.60L312.50 405.60L313.50 405.60L314.50 405.60L315.50 405.60L316.50 405.60L317.50 405.60L318.50 405.60L319.50 405.60L320.50 405.60L321.50 405.60L322.50 405.60M43.50 405.60L44.50 405.60L45.50 405.60L46.50 405.60L47.50 405.60L48.50 405.60L49.50 405.60L50.50 405.60L51.50 405.60L52.50 405.60L53.50 405.60L54.50 405.60L55.50 405.60L56.50 405.60L57.50 405.60L58.50 405.60L59.50 405.60L60.50 405.60L61.50 405.60L62.50 405.60L63.50 405.60L64.50 405.60L65.50 405.60L66.50 405.60L67.50 405.60L68.50 405.60L69.50 405.60L70.50 405.60L71.50 405.59L72.50 405.59L73.50 405.59L74.50 405.59L75.50 405.59L76.50 405.59L77.50 405.58L78.50 405.58L79.50 405.58L80.50 405.57L81.50 405.57L82.50 405.56L83.50 405.55L84.50 405.54L85.50 405.53L86.50 405.52L87.50 405.51L88.50 405.49L89.50 405.47L90.50 405.45L91.50 405.42L92.50 405.39L93.50 405.36L94.50 405.32L95.50 405.27L96.50 405.22L97.50 405.15L98.50 405.08L99.50 405.01L100.50 404.91L101.50 404.81L102.50 404.69L103.50 404.56L104.50 404.41L105.50 404.24L106.50 404.05L107.50 403.84L108.50 403.60L109.50 403.33L110.50 403.04L111.50 402.70L112.50 402.34L113.50 401.93L114.50 401.47L115.50 400.97L116.50 400.42L117.50 399.82L118.50 399.16L119.50 398.43L120.50 397.64L121.50 396.77L122.50 395.83L123.50 394.81L124.50 393.70L125.50 392.51L126.50 391.22L127.50 389.83L128.50 388.35L129.50 386.76L130.50 385.06L131.50 383.24L132.50 381.32L133.50 379.27L134.50 377.11L135.50 374.83L136.50 372.42L137.50 369.89L138.50 367.25L139.50 364.48L140.50 361.59L141.50 358.59L142.50 355.48L143.50 352.26L144.50 348.94L145.50 345.53L146.50 342.03L147.50 338.45L148.50 334.79L149.50 331.08L150.50 327.32L151.50 323.52L152.50 319.70L153.50 315.87L154.50 312.04L155.50 308.22L156.50 304.44L157.50 300.71L158.50 297.04L159.50 293.46L160.50 289.96L161.50 286.59L162.50 283.34L163.50 280.23L164.50 277.29L165.50 274.51L166.50 271.93L167.50 269.55L168.50 267.39L169.50 265.45L170.50 263.74L171.50 262.29L172.50 261.08L173.50 260.14L174.50 259.46L175.50 259.06L176.50 258.92L177.50 259.06L178.50 259.46L179.50 260.14L180.50 261.08L181.50 262.29L182.50 263.74L183.50 265.45L184.50 267.39L185.50 269.55L186.50 271.93L187.50 274.51L188.50 277.29L189.50 280.23L190.50 283.34L191.50 286.59L192.50 289.96L193.50 293.46L194.50 297.04L195.50 300.71L196.50 304.44L197.50 308.22L198.50 312.04L199.50 315.87L200.50 319.70L201.50 323.52L202.50 327.32L203.50 331.08L204.50 334.79L205.50 338.45L206.50 342.03L207.50 345.53L208.50 348.94L209.50 352.26L210.50 355.48L211.50 358.59L212.50 361.59L213.50 364.48L214.50 367.25L215.50 369.89L216.50 372.42L217.50 374.83L218.50 377.11L219.50 379.27L220.50 381.32L221.50 383.24L222.50 385.06L223.50 386.76L224.50 388.35L225.50 389.83L226.50 391.22L227.50 392.51L228.50 393.70L229.50 394.81L230.50 395.83L231.50 396.77L232.50 397.64L233.50 398.43L234.50 399.16L235.50 399.82L236.50 400.42L237.50 400.97L238.50 401.47L239.50 401.93L240.50 402.34L241.50 402.70L242.50 403.04L243.50 403.33L244.50 403.60L245.50 403.84L246.50 404.05L247.50 404.24L248.50 404.41L249.50 404.56L250.50 404.69L251.50 404.81L252.50 404.91L253.50 405.01L254.50 405.08L255.50 405.15L256.50 405.22L257.50 405.27L258.50 405.32L259.50 405.36L260.50 405.39L261.50 405.42L262.50 405.45L263.50 405.47L264.50 405.49L265.50 405.51L266.50 405.52L267.50 405.53L268.50 405.54L269.50 405.55L270.50 405.56L271.50 405.57L272.50 405.57L273.50 405.58L274.50 405.58L275.50 405.58L276.50 405.59L277.50 405.59L278.50 405.59L279.50 405.59L280.50 405.59L281.50 405.59L282.50 405.60L283.50 405.60L284.50 405.60L285.50 405.60L286.50 405.60L287.50 405.60L288.50 405.60L289.50 405.60L290.50 405.60L291.50 405.60L292.50 405.60L293.50 405.60L294.50 405.60L295.50 405.60L296.50 405.60L297.50 405.60L298.50 405.60L299.50 405.60L300.50 405.60L301.50 405.60L302.50 405.60L303.50 405.60L304.50 405.60L305.50 405.60L306.50 405.60L307.50 405.60L308.50 405.60L309.50 405.60L310.50 405.60L311.50 405.60L312.50 405.60L313.50 405.60L314.50 405.60L315.50 405.60L316.50 405.60L317.50 405.60L318.50 405.60L319.50 405.60L320.50 405.60L321.50 405.60L322.50 405.60M43.50 405.60L44.50 405.60L45.50 405.60L46.50 405.60L47.50 405.60L48.50 405.60L49.50 405.60L50.50 405.60L51.50 405.60L52.50 405.60L53.50 405.60L54.50 405.60L55.50 405.60L56.50 405.60L57.50 405.60L58.50 405.60L59.50 405.60L60.50 405.60L61.50 405.60L62.50 405.60L63.50 405.60L64.50 405.60L65.50 405.60L66.50 405.60L67.50 405.60L68.50 405.60L69.50 405.60L70.50 405.60L71.50 405.59L72.50 405.59L73.50 405.59L74.50 405.59L75.50 405.59L76.50 405.59L77.50 405.58L78.50 405.58L79.50 405.58L80.50 405.57L81.50 405.57L82.50 405.56L83.50 405.55L84.50 405.54L85.50 405.53L86.50 405.52L87.50 405.50L88.50 405.49L89.50 405.47L90.50 405.44L91.50 405.42L92.50 405.38L93.50 405.35L94.50 405.31L95.50 405.26L96.50 405.20L97.50 405.14L98.50 405.07L99.50 404.99L100.50 404.90L101.50 404.79L102.50 404.67L103.50 404.54L104.50 404.38L105.50 404.21L106.50 404.02L107.50 403.80L108.50 403.56L109.50 403.28L110.50 402.98L111.50 402.64L112.50 402.27L113.50 401.85L114.50 401.40L115.50 400.89L116.50 400.33L117.50 399.72L118.50 399.05L119.50 398.31L120.50 397.51L121.50 396.64L122.50 395.69L123.50 394.66L124.50 393.54L125.50 392.34L126.50 391.04L127.50 389.65L128.50 388.16L129.50 386.56L130.50 384.85L131.50 383.03L132.50 381.10L133.50 379.06L134.50 376.89L135.50 374.61L136.50 372.20L137.50 369.68L138.50 367.04L139.50 364.28L140.50 361.40L141.50 358.42L142.50 355.32L143.50 352.12L144.50 348.83L145.50 345.44L146.50 341.96L147.50 338.42L148.50 334.80L149.50 331.13L150.50 327.42L151.50 323.67L152.50 319.90L153.50 316.13L154.50 312.36L155.50 308.62L156.50 304.91L157.50 301.25L158.50 297.66L159.50 294.16L160.50 290.75L161.50 287.46L162.50 284.30L163.50 281.29L164.50 278.44L165.50 275.77L166.50 273.29L167.50 271.00L168.50 268.94L169.50 267.10L170.50 265.49L171.50 264.13L172.50 263.02L173.50 262.17L174.50 261.59L175.50 261.27L176.50 261.21L177.50 261.43L178.50 261.91L179.50 262.65L180.50 263.66L181.50 264.92L182.50 266.43L183.50 268.17L184.50 270.15L185.50 272.35L186.50 274.75L187.50 277.35L188.50 280.13L189.50 283.08L190.50 286.18L191.50 289.42L192.50 292.78L193.50 296.25L194.50 299.81L195.50 303.44L196.50 307.13L197.50 310.86L198.50 314.62L199.50 318.39L200.50 322.17L201.50 325.92L202.50 329.65L203.50 333.34L204.50 336.98L205.50 340.55L206.50 344.06L207.50 347.48L208.50 350.81L209.50 354.05L210.50 357.19L211.50 360.22L212.50 363.14L213.50 365.95L214.50 368.64L215.50 371.21L216.50 373.66L217.50 375.99L218.50 378.20L219.50 380.30L220.50 382.28L221.50 384.14L222.50 385.89L223.50 387.53L224.50 389.07L225.50 390.50L226.50 391.83L227.50 393.07L228.50 394.22L229.50 395.29L230.50 396.27L231.50 397.17L232.50 398.00L233.50 398.76L234.50 399.46L235.50 400.09L236.50 400.67L237.50 401.20L238.50 401.68L239.50 402.11L240.50 402.50L241.50 402.85L242.50 403.17L243.50 403.45L244.50 403.71L245.50 403.93L246.50 404.14L247.50 404.32L248.50 404.48L249.50 404.62L250.50 404.74L251.50 404.86L252.50 404.95L253.50 405.04L254.50 405.11L255.50 405.18L256.50 405.24L257.50 405.29L258.50 405.33L259.50 405.37L260.50 405.40L261.50 405.43L262.50 405.46L263.50 405.48L264.50 405.50L265.50 405.51L266.50 405.53L267.50 405.54L268.50 405.55L269.50 405.56L270.50 405.56L271.50 405.57L272.50 405.57L273.50 405.58L274.50 405.58L275.50 405.58L276.50 405.59L277.50 405.59L278.50 405.59L279.50 405.59L280.50 405.59L281.50 405.60L282.50 405.60L283.50 405.60L284.50 405.60L285.50 405.60L286.50 405.60L287.50 405.60L288.50 405.60L289.50 405.60L290.50 405.60L291.50 405.60L292.50 405.60L293.50 405.60L294.50 405.60L295.50 405.60L296.50 405.60L297.50 405.60L298.50 405.60L299.50 405.60L300.50 405.60L301.50 405.60L302.50 405.60L303.50 405.60L304.50 405.60L305.50 405.60L306.50 405.60L307.50 405.60L308.50 405.60L309.50 405.60L310.50 405.60L311.50 405.60L312.50 405.60L313.50 405.60L314.50 405.60L315.50 405.60L316.50 405.60L317.50 405.60L318.50 405.60L319.50 405.60L320.50 405.60L321.50 405.60L322.50 405.60M43.50 405.60L44.50 405.60L45.50 405.60L46.50 405.60L47.50 405.60L48.50 405.60L49.50 405.60L50.50 405.60L51.50 405.60L52.50 405.60L53.50 405.60L54.50 405.60L55.50 405.60L56.50 405.60L57.50 405.60L58.50 405.60L59.50 405.60L60.50 405.60L61.50 405.60L62.50 405.60L63.50 405.60L64.50 405.60L65.50 405.60L66.50 405.60L67.50 405.60L68.50 405.60L69.50 405.60L70.50 405.60L71.50 405.60L72.50 405.59L73.50 405.59L74.50 405.59L75.50 405.59L76.50 405.59L77.50 405.59L78.50 405.58L79.50 405.58L80.50 405.57L81.50 405.57L82.50 405.56L83.50 405.56L84.50 405.55L85.50 405.54L86.50 405.53L87.50 405.51L88.50 405.50L89.50 405.48L90.50 405.46L91.50 405.43L92.50 405.40L93.50 405.37L94.50 405.33L95.50 405.29L96.50 405.23L97.50 405.18L98.50 405.11L99.50 405.03L100.50 404.94L101.50 404.84L102.50 404.73L103.50 404.60L104.50 404.46L105.50 404.29L106.50 404.11L107.50 403.90L108.50 403.67L109.50 403.41L110.50 403.12L111.50 402.80L112.50 402.44L113.50 402.05L114.50 401.61L115.50 401.13L116.50 400.59L117.50 400.01L118.50 399.36L119.50 398.66L120.50 397.90L121.50 397.06L122.50 396.15L123.50 395.17L124.50 394.10L125.50 392.96L126.50 391.72L127.50 390.39L128.50 388.97L129.50 387.45L130.50 385.82L131.50 384.10L132.50 382.27L133.50 380.33L134.50 378.28L135.50 376.12L136.50 373.86L137.50 371.48L138.50 369.00L139.50 366.41L140.50 363.73L141.50 360.94L142.50 358.06L143.50 355.09L144.50 352.04L145.50 348.91L146.50 345.71L147.50 342.46L148.50 339.16L149.50 335.82L150.50 332.45L151.50 329.07L152.50 325.68L153.50 322.31L154.50 318.96L155.50 315.64L156.50 312.38L157.50 309.19L158.50 306.08L159.50 303.07L160.50 300.17L161.50 297.40L162.50 294.77L163.50 292.29L164.50 289.97L165.50 287.84L166.50 285.90L167.50 284.16L168.50 282.63L169.50 281.32L170.50 280.24L171.50 279.40L172.50 278.79L173.50 278.42L174.50 278.30L175.50 278.42L176.50 278.79L177.50 279.40L178.50 280.24L179.50 281.32L180.50 282.63L181.50 284.16L182.50 285.90L183.50 287.84L184.50 289.97L185.50 292.29L186.50 294.77L187.50 297.40L188.50 300.17L189.50 303.07L190.50 306.08L191.50 309.19L192.50 312.38L193.50 315.64L194.50 318.96L195.50 322.31L196.50 325.68L197.50 329.07L198.50 332.45L199.50 335.82L200.50 339.16L201.50 342.46L202.50 345.71L203.50 348.91L204.50 352.04L205.50 355.09L206.50 358.06L207.50 360.94L208.50 363.73L209.50 366.41L210.50 369.00L211.50 371.48L212.50 373.86L213.50 376.12L214.50 378.28L215.50 380.33L216.50 382.27L217.50 384.10L218.50 385.82L219.50 387.45L220.50 388.97L221.50 390.39L222.50 391.72L223.50 392.96L224.50 394.10L225.50 395.17L226.50 396.15L227.50 397.06L228.50 397.90L229.50 398.66L230.50 399.36L231.50 400.01L232.50 400.59L233.50 401.13L234.50 401.61L235.50 402.05L236.50 402.44L237.50 402.80L238.50 403.12L239.50 403.41L240.50 403.67L241.50 403.90L242.50 404.11L243.50 404.29L244.50 404.46L245.50 404.60L246.50 404.73L247.50 404.84L248.50 404.94L249.50 405.03L250.50 405.11L251.50 405.18L252.50 405.23L253.50 405.29L254.50 405.33L255.50 405.37L256.50 405.40L257.50 405.43L258.50 405.46L259.50 405.48L260.50 405.50L261.50 405.51L262.50 405.53L263.50 405.54L264.50 405.55L265.50 405.56L266.50 405.56L267.50 405.57L268.50 405.57L269.50 405.58L270.50 405.58L271.50 405.59L272.50 405.59L273.50 405.59L274.50 405.59L275.50 405.59L276.50 405.59L277.50 405.60L278.50 405.60L279.50 405.60L280.50 405.60L281.50 405.60L282.50 405.60L283.50 405.60L284.50 405.60L285.50 405.60L286.50 405.60L287.50 405.60L288.50 405.60L289.50 405.60L290.50 405.60L291.50 405.60L292.50 405.60L293.50 405.60L294.50 405.60L295.50 405.60L296.50 405.60L297.50 405.60L298.50 405.60L299.50 405.60L300.50 405.60L301.50 405.60L302.50 405.60L303.50 405.60L304.50 405.60L305.50 405.60L306.50 405.60L307.50 405.60L308.50 405.60L309.50 405.60L310.50 405.60L311.50 405.60L312.50 405.60L313.50 405.60L314.50 405.60L315.50 405.60L316.50 405.60L317.50 405.60L318.50 405.60L319.50 405.60L320.50 405.60L321.50 405.60L322.50 405.60M43.50 405.60L44.50 405.60L45.50 405.60L46.50 405.60L47.50 405.60L48.50 405.60L49.50 405.60L50.50 405.60L51.50 405.60L52.50 405.60L53.50 405.60L54.50 405.60L55.50 405.60L56.50 405.60L57.50 405.60L58.50 405.60L59.50 405.60L60.50 405.60L61.50 405.60L62.50 405.60L63.50 405.60L64.50 405.60L65.50 405.60L66.50 405.60L67.50 405.60L68.50 405.60L69.50 405.60L70.50 405.60L71.50 405.60L72.50 405.59L73.50 405.59L74.50 405.59L75.50 405.59L76.50 405.59L77.50 405.59L78.50 405.58L79.50 405.58L80.50 405.58L81.50 405.57L82.50 405.57L83.50 405.56L84.50 405.55L85.50 405.55L86.50 405.54L87.50 405.52L88.50 405.51L89.50 405.49L90.50 405.48L91.50 405.45L92.50 405.43L93.50 405.40L94.50 405.37L95.50 405.33L96.50 405.28L97.50 405.23L98.50 405.17L99.50 405.11L100.50 405.03L101.50 404.95L102.50 404.85L103.50 404.74L104.50 404.62L105.50 404.47L106.50 404.32L107.50 404.14L108.50 403.94L109.50 403.72L110.50 403.47L111.50 403.20L112.50 402.89L113.50 402.55L114.50 402.17L115.50 401.76L116.50 401.31L117.50 400.80L118.50 400.26L119.50 399.66L120.50 399.00L121.50 398.29L122.50 397.52L123.50 396.68L124.50 395.77L125.50 394.79L126.50 393.74L127.50 392.61L128.50 391.40L129.50 390.11L130.50 388.73L131.50 387.26L132.50 385.71L133.50 384.07L134.50 382.33L135.50 380.50L136.50 378.58L137.50 376.57L138.50 374.47L139.50 372.29L140.50 370.01L141.50 367.66L142.50 365.23L143.50 362.72L144.50 360.15L145.50 357.51L146.50 354.82L147.50 352.09L148.50 349.31L149.50 346.50L150.50 343.67L151.50 340.83L152.50 338.00L153.50 335.17L154.50 332.36L155.50 329.59L156.50 326.87L157.50 324.21L158.50 321.61L159.50 319.10L160.50 316.69L161.50 314.39L162.50 312.20L163.50 310.15L164.50 308.24L165.50 306.48L166.50 304.89L167.50 303.47L168.50 302.22L169.50 301.16L170.50 300.29L171.50 299.62L172.50 299.15L173.50 298.89L174.50 298.82L175.50 298.97L176.50 299.32L177.50 299.87L178.50 300.62L179.50 301.56L180.50 302.70L181.50 304.01L182.50 305.51L183.50 307.17L184.50 308.99L185.50 310.96L186.50 313.06L187.50 315.30L188.50 317.64L189.50 320.10L190.50 322.64L191.50 325.26L192.50 327.95L193.50 330.70L194.50 333.48L195.50 336.30L196.50 339.13L197.50 341.97L198.50 344.81L199.50 347.63L200.50 350.42L201.50 353.19L202.50 355.91L203.50 358.58L204.50 361.19L205.50 363.73L206.50 366.21L207.50 368.61L208.50 370.93L209.50 373.17L210.50 375.32L211.50 377.39L212.50 379.36L213.50 381.24L214.50 383.03L215.50 384.73L216.50 386.34L217.50 387.86L218.50 389.29L219.50 390.64L220.50 391.89L221.50 393.07L222.50 394.17L223.50 395.19L224.50 396.14L225.50 397.02L226.50 397.83L227.50 398.58L228.50 399.27L229.50 399.90L230.50 400.48L231.50 401.01L232.50 401.49L233.50 401.93L234.50 402.33L235.50 402.69L236.50 403.02L237.50 403.31L238.50 403.57L239.50 403.81L240.50 404.02L241.50 404.21L242.50 404.38L243.50 404.53L244.50 404.67L245.50 404.79L246.50 404.89L247.50 404.98L248.50 405.06L249.50 405.14L250.50 405.20L251.50 405.25L252.50 405.30L253.50 405.34L254.50 405.38L255.50 405.41L256.50 405.44L257.50 405.46L258.50 405.48L259.50 405.50L260.50 405.52L261.50 405.53L262.50 405.54L263.50 405.55L264.50 405.56L265.50 405.56L266.50 405.57L267.50 405.57L268.50 405.58L269.50 405.58L270.50 405.59L271.50 405.59L272.50 405.59L273.50 405.59L274.50 405.59L275.50 405.59L276.50 405.60L277.50 405.60L278.50 405.60L279.50 405.60L280.50 405.60L281.50 405.60L282.50 405.60L283.50 405.60L284.50 405.60L285.50 405.60L286.50 405.60L287.50 405.60L288.50 405.60L289.50 405.60L290.50 405.60L291.50 405.60L292.50 405.60L293.50 405.60L294.50 405.60L295.50 405.60L296.50 405.60L297.50 405.60L298.50 405.60L299.50 405.60L300.50 405.60L301.50 405.60L302.50 405.60L303.50 405.60L304.50 405.60L305.50 405.60L306.50 405.60L307.50 405.60L308.50 405.60L309.50 405.60L310.50 405.60L311.50 405.60L312.50 405.60L313.50 405.60L314.50 405.60L315.50 405.60L316.50 405.60L317.50 405.60L318.50 405.60L319.50 405.60L320.50 405.60L321.50 405.60L322.50 405.60M43.50 405.60L44.50 405.60L45.50 405.60L46.50 405.60L47.50 405.60L48.50 405.60L49.50 405.60L50.50 405.60L51.50 405.60L52.50 405.60L53.50 405.60L54.50 405.60L55.50 405.60L56.50 405.60L57.50 405.60L58.50 405.60L59.50 405.60L60.50 405.60L61.50 405.60L62.50 405.60L63.50 405.60L64.50 405.60L65.50 405.60L66.50 405.60L67.50 405.60L68.50 405.60L69.50 405.60L70.50 405.60L71.50 405.60L72.50 405.60L73.50 405.59L74.50 405.59L75.50 405.59L76.50 405.59L77.50 405.59L78.50 405.59L79.50 405.58L80.50 405.58L81.50 405.57L82.50 405.57L83.50 405.56L84.50 405.56L85.50 405.55L86.50 405.54L87.50 405.53L88.50 405.52L89.50 405.50L90.50 405.48L91.50 405.46L92.50 405.44L93.50 405.41L94.50 405.38L95.50 405.34L96.50 405.30L97.50 405.26L98.50 405.20L99.50 405.14L100.50 405.07L101.50 404.99L102.50 404.90L103.50 404.80L104.50 404.68L105.50 404.55L106.50 404.40L107.50 404.24L108.50 404.05L109.50 403.85L110.50 403.62L111.50 403.36L112.50 403.08L113.50 402.77L114.50 402.42L115.50 402.04L116.50 401.62L117.50 401.16L118.50 400.65L119.50 400.10L120.50 399.50L121.50 398.84L122.50 398.13L123.50 397.36L124.50 396.53L125.50 395.63L126.50 394.67L127.50 393.63L128.50 392.53L129.50 391.34L130.50 390.08L131.50 388.75L132.50 387.33L133.50 385.83L134.50 384.25L135.50 382.58L136.50 380.84L137.50 379.01L138.50 377.11L139.50 375.12L140.50 373.06L141.50 370.93L142.50 368.73L143.50 366.46L144.50 364.14L145.50 361.76L146.50 359.33L147.50 356.87L148.50 354.37L149.50 351.84L150.50 349.30L151.50 346.75L152.50 344.21L153.50 341.68L154.50 339.17L155.50 336.70L156.50 334.27L157.50 331.90L158.50 329.60L159.50 327.37L160.50 325.24L161.50 323.20L162.50 321.28L163.50 319.47L164.50 317.80L165.50 316.27L166.50 314.88L167.50 313.65L168.50 312.59L169.50 311.69L170.50 310.96L171.50 310.41L172.50 310.05L173.50 309.86L174.50 309.86L175.50 310.05L176.50 310.41L177.50 310.96L178.50 311.69L179.50 312.59L180.50 313.65L181.50 314.88L182.50 316.27L183.50 317.80L184.50 319.47L185.50 321.28L186.50 323.20L187.50 325.24L188.50 327.37L189.50 329.60L190.50 331.90L191.50 334.27L192.50 336.70L193.50 339.17L194.50 341.68L195.50 344.21L196.50 346.75L197.50 349.30L198.50 351.84L199.50 354.37L200.50 356.87L201.50 359.33L202.50 361.76L203.50 364.14L204.50 366.46L205.50 368.73L206.50 370.93L207.50 373.06L208.50 375.12L209.50 377.11L210.50 379.01L211.50 380.84L212.50 382.58L213.50 384.25L214.50 385.83L215.50 387.33L216.50 388.75L217.50 390.08L218.50 391.34L219.50 392.53L220.50 393.63L221.50 394.67L222.50 395.63L223.50 396.53L224.50 397.36L225.50 398.13L226.50 398.84L227.50 399.50L228.50 400.10L229.50 400.65L230.50 401.16L231.50 401.62L232.50 402.04L233.50 402.42L234.50 402.77L235.50 403.08L236.50 403.36L237.50 403.62L238.50 403.85L239.50 404.05L240.50 404.24L241.50 404.40L242.50 404.55L243.50 404.68L244.50 404.80L245.50 404.90L246.50 404.99L247.50 405.07L248.50 405.14L249.50 405.20L250.50 405.26L251.50 405.30L252.50 405.34L253.50 405.38L254.50 405.41L255.50 405.44L256.50 405.46L257.50 405.48L258.50 405.50L259.50 405.52L260.50 405.53L261.50 405.54L262.50 405.55L263.50 405.56L264.50 405.56L265.50 405.57L266.50 405.57L267.50 405.58L268.50 405.58L269.50 405.59L270.50 405.59L271.50 405.59L272.50 405.59L273.50 405.59L274.50 405.59L275.50 405.60L276.50 405.60L277.50 405.60L278.50 405.60L279.50 405.60L280.50 405.60L281.50 405.60L282.50 405.60L283.50 405.60L284.50 405.60L285.50 405.60L286.50 405.60L287.50 405.60L288.50 405.60L289.50 405.60L290.50 405.60L291.50 405.60L292.50 405.60L293.50 405.60L294.50 405.60L295.50 405.60L296.50 405.60L297.50 405.60L298.50 405.60L299.50 405.60L300.50 405.60L301.50 405.60L302.50 405.60L303.50 405.60L304.50 405.60L305.50 405.60L306.50 405.60L307.50 405.60L308.50 405.60L309.50 405.60L310.50 405.60L311.50 405.60L312.50 405.60L313.50 405.60L314.50 405.60L315.50 405.60L316.50 405.60L317.50 405.60L318.50 405.60L319.50 405.60L320.50 405.60L321.50 405.60L322.50 405.60" fill="none" stroke="#000" stroke-width="1.0" clip-path="url(#cb)"/>
<g clip-path="url(#cb)"><rect x="130.65" y="385.75" width="3.50" height="3.50" fill="#000"/><rect x="146.65" y="328.85" width="3.50" height="3.50" fill="#000"/><rect x="162.25" y="280.95" width="3.50" height="3.50" fill="#000"/><rect x="171.05" y="254.25" width="3.50" height="3.50" fill="#000"/><rect x="177.45" y="248.45" width="3.50" height="3.50" fill="#000"/><rect x="192.95" y="291.65" width="3.50" height="3.50" fill="#000"/><rect x="200.45" y="323.75" width="3.50" height="3.50" fill="#000"/><rect x="210.15" y="346.45" width="3.50" height="3.50" fill="#000"/><rect x="216.45" y="372.05" width="3.50" height="3.50" fill="#000"/><rect x="223.75" y="383.85" width="3.50" height="3.50" fill="#000"/><rect x="238.75" y="395.25" width="3.50" height="3.50" fill="#000"/><rect x="246.65" y="398.45" width="3.50" height="3.50" fill="#000"/><circle cx="45.00" cy="403.00" r="2.10" fill="#f00"/><circle cx="50.90" cy="402.60" r="2.10" fill="#f00"/><circle cx="64.70" cy="403.20" r="2.10" fill="#f00"/><circle cx="72.60" cy="402.60" r="2.10" fill="#f00"/><circle cx="80.20" cy="402.60" r="2.10" fill="#f00"/><circle cx="88.30" cy="403.00" r="2.10" fill="#f00"/><circle cx="156.40" cy="302.60" r="2.10" fill="#f00"/><circle cx="172.80" cy="261.40" r="2.10" fill="#f00"/><circle cx="180.00" cy="261.40" r="2.10" fill="#f00"/><circle cx="188.10" cy="273.40" r="2.10" fill="#f00"/><circle cx="194.70" cy="314.80" r="2.10" fill="#f00"/><circle cx="202.20" cy="334.80" r="2.10" fill="#f00"/><circle cx="211.90" cy="371.40" r="2.10" fill="#f00"/><circle cx="218.20" cy="379.20" r="2.10" fill="#f00"/><circle cx="225.50" cy="390.20" r="2.10" fill="#f00"/><circle cx="232.80" cy="391.50" r="2.10" fill="#f00"/><circle cx="256.20" cy="400.20" r="2.10" fill="#f00"/><circle cx="263.90" cy="402.60" r="2.10" fill="#f00"/><circle cx="278.50" cy="403.00" r="2.10" fill="#f00"/><circle cx="293.10" cy="402.80" r="2.10" fill="#f00"/><circle cx="301.30" cy="402.60" r="2.10" fill="#f00"/><circle cx="309.70" cy="402.40" r="2.10" fill="#f00"/><circle cx="315.00" cy="402.60" r="2.10" fill="#f00"/><circle cx="321.40" cy="402.60" r="2.10" fill="#f00"/><path d="M45.30 399.72L48.10 404.22L42.50 404.22Z" fill="#00f"/><path d="M95.60 400.12L98.40 404.62L92.80 404.62Z" fill="#00f"/><path d="M102.80 400.52L105.60 405.02L100.00 405.02Z" fill="#00f"/><path d="M110.30 399.52L113.10 404.02L107.50 404.02Z" fill="#00f"/><path d="M116.60 400.52L119.40 405.02L113.80 405.02Z" fill="#00f"/><path d="M125.70 401.02L128.50 405.52L122.90 405.52Z" fill="#00f"/><path d="M140.40 356.42L143.20 360.92L137.60 360.92Z" fill="#00f"/><path d="M148.40 322.22L151.20 326.72L145.60 326.72Z" fill="#00f"/><path d="M156.40 294.22L159.20 298.72L153.60 298.72Z" fill="#00f"/><path d="M164.00 271.72L166.80 276.22L161.20 276.22Z" fill="#00f"/><path d="M172.80 264.82L175.60 269.32L170.00 269.32Z" fill="#00f"/><path d="M180.00 266.42L182.80 270.92L177.20 270.92Z" fill="#00f"/><path d="M188.10 276.22L190.90 280.72L185.30 280.72Z" fill="#00f"/><path d="M194.70 303.02L197.50 307.52L191.90 307.52Z" fill="#00f"/><path d="M211.90 361.22L214.70 365.72L209.10 365.72Z" fill="#00f"/><path d="M218.20 374.92L221.00 379.42L215.40 379.42Z" fill="#00f"/><path d="M225.50 393.52L228.30 398.02L222.70 398.02Z" fill="#00f"/><path d="M232.80 393.22L235.60 397.72L230.00 397.72Z" fill="#00f"/><path d="M271.20 400.52L274.00 405.02L268.40 405.02Z" fill="#00f"/><path d="M285.80 400.72L288.60 405.22L283.00 405.22Z" fill="#00f"/><path d="M315.20 400.72L318.00 405.22L312.40 405.22Z" fill="#00f"/><path d="M110.00 404.98L112.80 400.48L107.20 400.48Z" fill="#0ff"/><path d="M140.40 369.98L143.20 365.48L137.60 365.48Z" fill="#0ff"/><path d="M148.40 347.28L151.20 342.78L145.60 342.78Z" fill="#0ff"/><path d="M156.40 310.68L159.20 306.18L153.60 306.18Z" fill="#0ff"/><path d="M164.00 281.18L166.80 276.68L161.20 276.68Z" fill="#0ff"/><path d="M172.00 290.58L174.80 286.08L169.20 286.08Z" fill="#0ff"/><path d="M180.00 286.58L182.80 282.08L177.20 282.08Z" fill="#0ff"/><path d="M188.10 307.98L190.90 303.48L185.30 303.48Z" fill="#0ff"/><path d="M194.70 321.28L197.50 316.78L191.90 316.78Z" fill="#0ff"/><path d="M202.20 343.98L205.00 339.48L199.40 339.48Z" fill="#0ff"/><path d="M42.36 403.20L47.16 400.55L47.16 405.85Z" fill="#f0f"/><path d="M48.56 403.00L53.36 400.35L53.36 405.65Z" fill="#f0f"/><path d="M56.16 403.20L60.96 400.55L60.96 405.85Z" fill="#f0f"/><path d="M62.26 402.80L67.06 400.15L67.06 405.45Z" fill="#f0f"/><path d="M69.96 403.00L74.76 400.35L74.76 405.65Z" fill="#f0f"/><path d="M77.76 403.00L82.56 400.35L82.56 405.65Z" fill="#f0f"/><path d="M92.96 403.20L97.76 400.55L97.76 405.85Z" fill="#f0f"/><path d="M114.16 402.50L118.96 399.85L118.96 405.15Z" fill="#f0f"/><path d="M115.36 402.00L120.16 399.35L120.16 404.65Z" fill="#f0f"/><path d="M123.06 398.20L127.86 395.55L127.86 400.85Z" fill="#f0f"/><path d="M137.76 372.80L142.56 370.15L142.56 375.45Z" fill="#f0f"/><path d="M145.76 340.80L150.56 338.15L150.56 343.45Z" fill="#f0f"/><path d="M153.76 318.90L158.56 316.25L158.56 321.55Z" fill="#f0f"/><path d="M161.36 308.10L166.16 305.45L166.16 310.75Z" fill="#f0f"/><path d="M169.36 302.80L174.16 300.15L174.16 305.45Z" fill="#f0f"/><path d="M177.36 302.80L182.16 300.15L182.16 305.45Z" fill="#f0f"/><path d="M185.46 316.10L190.26 313.45L190.26 318.75Z" fill="#f0f"/><path d="M192.06 336.20L196.86 333.55L196.86 338.85Z" fill="#f0f"/><path d="M199.56 367.00L204.36 364.35L204.36 369.65Z" fill="#f0f"/><path d="M208.26 378.70L213.06 376.05L213.06 381.35Z" fill="#f0f"/><path d="M215.56 393.30L220.36 390.65L220.36 395.95Z" fill="#f0f"/><path d="M261.26 403.20L266.06 400.55L266.06 405.85Z" fill="#f0f"/><path d="M268.76 402.60L273.56 399.95L273.56 405.25Z" fill="#f0f"/><path d="M275.86 402.60L280.66 399.95L280.66 405.25Z" fill="#f0f"/><path d="M290.46 403.00L295.26 400.35L295.26 405.65Z" fill="#f0f"/><path d="M306.86 403.00L311.66 400.35L311.66 405.65Z" fill="#f0f"/><path d="M318.76 403.00L323.56 400.35L323.56 405.65Z" fill="#f0f"/><path d="M58.80 400.15L59.46 401.74L61.18 401.88L59.87 403.00L60.27 404.67L58.80 403.77L57.33 404.67L57.73 403.00L56.42 401.88L58.14 401.74Z" fill="#808000"/><path d="M64.70 399.75L65.36 401.34L67.08 401.48L65.77 402.60L66.17 404.27L64.70 403.38L63.23 404.27L63.63 402.60L62.32 401.48L64.04 401.34Z" fill="#808000"/><path d="M88.30 400.15L88.96 401.74L90.68 401.88L89.37 403.00L89.77 404.67L88.30 403.77L86.83 404.67L87.23 403.00L85.92 401.88L87.64 401.74Z" fill="#808000"/><path d="M102.80 399.95L103.46 401.54L105.18 401.68L103.87 402.80L104.27 404.47L102.80 403.57L101.33 404.47L101.73 402.80L100.42 401.68L102.14 401.54Z" fill="#808000"/><path d="M110.00 400.75L110.66 402.34L112.38 402.48L111.07 403.60L111.47 405.27L110.00 404.38L108.53 405.27L108.93 403.60L107.62 402.48L109.34 402.34Z" fill="#808000"/><path d="M132.40 388.75L133.06 390.34L134.78 390.48L133.47 391.60L133.87 393.27L132.40 392.38L130.93 393.27L131.33 391.60L130.02 390.48L131.74 390.34Z" fill="#808000"/><path d="M140.40 374.55L141.06 376.14L142.78 376.28L141.47 377.40L141.87 379.07L140.40 378.18L138.93 379.07L139.33 377.40L138.02 376.28L139.74 376.14Z" fill="#808000"/><path d="M148.40 350.55L149.06 352.14L150.78 352.28L149.47 353.40L149.87 355.07L148.40 354.18L146.93 355.07L147.33 353.40L146.02 352.28L147.74 352.14Z" fill="#808000"/><path d="M156.40 325.15L157.06 326.74L158.78 326.88L157.47 328.00L157.87 329.67L156.40 328.77L154.93 329.67L155.33 328.00L154.02 326.88L155.74 326.74Z" fill="#808000"/><path d="M164.20 321.95L164.86 323.54L166.58 323.68L165.27 324.80L165.67 326.47L164.20 325.57L162.73 326.47L163.13 324.80L161.82 323.68L163.54 323.54Z" fill="#808000"/><path d="M172.20 327.75L172.86 329.34L174.58 329.48L173.27 330.60L173.67 332.27L172.20 331.38L170.73 332.27L171.13 330.60L169.82 329.48L171.54 329.34Z" fill="#808000"/><path d="M180.00 316.55L180.66 318.14L182.38 318.28L181.07 319.40L181.47 321.07L180.00 320.18L178.53 321.07L178.93 319.40L177.62 318.28L179.34 318.14Z" fill="#808000"/><path d="M188.10 327.25L188.76 328.84L190.48 328.98L189.17 330.10L189.57 331.77L188.10 330.88L186.63 331.77L187.03 330.10L185.72 328.98L187.44 328.84Z" fill="#808000"/><path d="M194.70 328.55L195.36 330.14L197.08 330.28L195.77 331.40L196.17 333.07L194.70 332.18L193.23 333.07L193.63 331.40L192.32 330.28L194.04 330.14Z" fill="#808000"/><path d="M202.20 347.25L202.86 348.84L204.58 348.98L203.27 350.10L203.67 351.77L202.20 350.88L200.73 351.77L201.13 350.10L199.82 348.98L201.54 348.84Z" fill="#808000"/><path d="M285.80 400.15L286.46 401.74L288.18 401.88L286.87 403.00L287.27 404.67L285.80 403.77L284.33 404.67L284.73 403.00L283.42 401.88L285.14 401.74Z" fill="#808000"/><path d="M301.50 400.95L302.16 402.54L303.88 402.68L302.57 403.80L302.97 405.47L301.50 404.57L300.03 405.47L300.43 403.80L299.12 402.68L300.84 402.54Z" fill="#808000"/></g>
<rect x="43.5" y="234.6" width="279.30" height="171.00" fill="none" stroke="#000" stroke-width="1.3"/>
<text x="113.33" y="422.00" font-size="13.5" text-anchor="middle" >21</text>
<text x="206.43" y="422.00" font-size="13.5" text-anchor="middle" >22</text>
<text x="299.52" y="422.00" font-size="13.5" text-anchor="middle" >23</text>
<text x="39.80" y="409.00" font-size="13.5" text-anchor="end" >0</text>
<text x="39.80" y="333.00" font-size="13.5" text-anchor="end" >200</text>
<text x="39.80" y="257.00" font-size="13.5" text-anchor="end" >400</text>
<rect x="246.35" y="261.15" width="6.50" height="6.50" fill="#000"/>
<text x="267.60" y="268.70" font-size="12" text-anchor="start" >301K</text>
<circle cx="249.60" cy="279.48" r="3.75" fill="#f00"/>
<text x="267.60" y="283.78" font-size="12" text-anchor="start" >350K</text>
<path d="M249.60 289.57L254.30 297.37L244.90 297.37Z" fill="#00f"/>
<text x="267.60" y="298.86" font-size="12" text-anchor="start" >399K</text>
<path d="M249.60 314.63L254.30 306.83L244.90 306.83Z" fill="#0ff"/>
<text x="267.60" y="313.94" font-size="12" text-anchor="start" >455K</text>
<path d="M244.48 324.72L252.48 320.12L252.48 329.32Z" fill="#f0f"/>
<text x="267.60" y="329.02" font-size="12" text-anchor="start" >475K</text>
<path d="M249.60 335.39L250.90 338.51L254.26 338.78L251.70 340.97L252.48 344.25L249.60 342.49L246.72 344.25L247.50 340.97L244.94 338.78L248.30 338.51Z" fill="#808000"/>
<text x="267.60" y="344.10" font-size="12" text-anchor="start" >494K</text>
<text x="51.60" y="383.00" font-size="18" text-anchor="start" >(b)</text>
<path d="M362.50 177.20v-7.3M362.50 6.30v7.3M502.00 177.20v-7.3M502.00 6.30v7.3M641.50 177.20v-7.3M641.50 6.30v7.3M432.25 177.20v-3.8M432.25 6.30v3.8M571.75 177.20v-3.8M571.75 6.30v3.8M362.50 177.20h7.3M641.50 177.20h-7.3M362.50 134.47h7.3M641.50 134.47h-7.3M362.50 91.75h7.3M641.50 91.75h-7.3M362.50 49.03h7.3M641.50 49.03h-7.3M362.50 6.30h7.3M641.50 6.30h-7.3M362.50 155.84h3.8M641.50 155.84h-3.8M362.50 113.11h3.8M641.50 113.11h-3.8M362.50 70.39h3.8M641.50 70.39h-3.8M362.50 27.66h3.8M641.50 27.66h-3.8" stroke="#000" stroke-width="1.2" fill="none"/>
<path d="M362.50 24.91L365.29 25.13L368.08 25.35L370.87 25.58L373.66 25.80L376.45 26.03L379.24 26.26L382.03 26.50L384.82 26.73L387.61 26.97L390.40 27.20L393.19 27.44L395.98 27.69L398.77 27.93L401.56 28.18L404.35 28.43L407.14 28.68L409.93 28.93L412.72 29.18L415.51 29.44L418.30 29.70L421.09 29.96L423.88 30.23L426.67 30.49L429.46 30.76L432.25 31.04L435.04 31.31L437.83 31.59L440.62 31.87L443.41 32.15L446.20 32.44L448.99 32.73L451.78 33.02L454.57 33.32L457.36 33.62L460.15 33.92L462.94 34.23L465.73 34.54L468.52 34.86L471.31 35.17L474.10 35.50L476.89 35.82L479.68 36.15L482.47 36.49L485.26 36.83L488.05 37.18L490.84 37.53L493.63 37.88L496.42 38.24L499.21 38.61L502.00 38.98L504.79 39.36L507.58 39.75L510.37 40.14L513.16 40.54L515.95 40.94L518.74 41.36L521.53 41.78L524.32 42.21L527.11 42.65L529.90 43.10L532.69 43.56L535.48 44.03L538.27 44.51L541.06 45.00L543.85 45.50L546.64 46.02L549.43 46.55L552.22 47.10L555.01 47.66L557.80 48.25L560.59 48.85L563.38 49.47L566.17 50.12L568.96 50.79L571.75 51.49L574.54 52.22L577.33 52.98L580.12 53.79L582.91 54.64L585.70 55.55L588.49 56.52L591.28 57.56L594.07 58.69L596.86 59.94L599.65 61.33L602.44 62.93L603.14 63.37L603.84 63.84L604.53 64.32L605.23 64.83L605.93 65.38L606.62 65.96L607.32 66.58L608.02 67.25L608.72 67.99L609.41 68.81L610.11 69.74L610.81 70.82L611.51 72.16L612.21 73.99L612.90 77.59L613.04 81.71L641.50 81.71M362.50 69.57L365.29 70.05L368.08 70.54L370.87 71.04L373.66 71.53L376.45 72.03L379.24 72.54L382.03 73.05L384.82 73.56L387.61 74.07L390.40 74.59L393.19 75.11L395.98 75.64L398.77 76.17L401.56 76.71L404.35 77.24L407.14 77.79L409.93 78.34L412.72 78.89L415.51 79.45L418.30 80.01L421.09 80.57L423.88 81.14L426.67 81.72L429.46 82.30L432.25 82.89L435.04 83.48L437.83 84.08L440.62 84.68L443.41 85.29L446.20 85.91L448.99 86.53L451.78 87.16L454.57 87.79L457.36 88.43L460.15 89.08L462.94 89.73L465.73 90.40L468.52 91.07L471.31 91.74L474.10 92.43L476.89 93.12L479.68 93.82L482.47 94.53L485.26 95.25L488.05 95.98L490.84 96.72L493.63 97.47L496.42 98.23L499.21 99.00L502.00 99.78L504.79 100.58L507.58 101.38L510.37 102.20L513.16 103.04L515.95 103.88L518.74 104.74L521.53 105.62L524.32 106.51L527.11 107.42L529.90 108.35L532.69 109.29L535.48 110.26L538.27 111.24L541.06 112.25L543.85 113.28L546.64 114.34L549.43 115.42L552.22 116.53L555.01 117.68L557.80 118.85L560.59 120.06L563.38 121.32L566.17 122.61L568.96 123.95L571.75 125.34L574.54 126.79L577.33 128.30L580.12 129.89L582.91 131.55L585.70 133.31L588.49 135.19L591.28 137.19L594.07 139.35L596.86 141.71L599.65 144.33L602.44 147.30L603.14 148.11L603.84 148.96L604.53 149.85L605.23 150.78L605.93 151.76L606.62 152.80L607.32 153.91L608.02 155.11L608.72 156.41L609.41 157.83L610.11 159.44L610.81 161.29L611.51 163.53L612.21 166.51L612.90 172.02L613.04 177.20" fill="none" stroke="#222" stroke-width="0.9" clip-path="url(#cc)"/>
<g clip-path="url(#cc)"><rect x="361.60" y="19.00" width="5.4" height="5.4" fill="#00f"/><rect x="361.60" y="37.50" width="5.4" height="5.4" fill="#00f"/><rect x="429.80" y="33.90" width="5.4" height="5.4" fill="#00f"/><rect x="497.80" y="29.50" width="5.4" height="5.4" fill="#00f"/><rect x="531.30" y="32.80" width="5.4" height="5.4" fill="#00f"/><rect x="551.30" y="35.70" width="5.4" height="5.4" fill="#00f"/><rect x="574.20" y="48.60" width="5.4" height="5.4" fill="#00f"/><rect x="604.20" y="69.20" width="5.4" height="5.4" fill="#00f"/><rect x="604.30" y="79.60" width="5.4" height="5.4" fill="#00f"/><rect x="630.80" y="74.20" width="5.4" height="5.4" fill="#00f"/><circle cx="364.30" cy="71.80" r="3.3" fill="#f00"/><circle cx="432.50" cy="80.70" r="3.3" fill="#f00"/><circle cx="500.50" cy="92.20" r="3.3" fill="#f00"/><circle cx="534.00" cy="109.60" r="3.3" fill="#f00"/><circle cx="554.00" cy="123.00" r="3.3" fill="#f00"/><circle cx="580.70" cy="130.10" r="3.3" fill="#f00"/><circle cx="606.70" cy="147.90" r="3.3" fill="#f00"/><circle cx="606.70" cy="155.00" r="3.3" fill="#f00"/><circle cx="633.00" cy="176.80" r="3.3" fill="#f00"/></g>
<rect x="362.5" y="6.3" width="279.00" height="170.90" fill="none" stroke="#000" stroke-width="1.3"/>
<text x="362.50" y="193.60" font-size="13.5" text-anchor="middle" >300</text>
<text x="502.00" y="193.60" font-size="13.5" text-anchor="middle" >400</text>
<text x="641.50" y="193.60" font-size="13.5" text-anchor="middle" >500</text>
<text x="649.20" y="180.90" font-size="13.5" text-anchor="start" >0</text>
<text x="649.20" y="138.17" font-size="13.5" text-anchor="start" >20</text>
<text x="649.20" y="95.45" font-size="13.5" text-anchor="start" >40</text>
<text x="649.20" y="52.73" font-size="13.5" text-anchor="start" >60</text>
<text x="649.20" y="10.00" font-size="13.5" text-anchor="start" >80</text>
<text x="373.70" y="163.70" font-size="18" text-anchor="start" >(c)</text>
<path d="M362.50 405.50v-7.3M362.50 234.60v7.3M455.50 405.50v-7.3M455.50 234.60v7.3M548.50 405.50v-7.3M548.50 234.60v7.3M641.50 405.50v-7.3M641.50 234.60v7.3M409.00 405.50v-3.8M409.00 234.60v3.8M502.00 405.50v-3.8M502.00 234.60v3.8M595.00 405.50v-3.8M595.00 234.60v3.8M362.50 405.50h7.3M641.50 405.50h-7.3M362.50 344.46h7.3M641.50 344.46h-7.3M362.50 283.43h7.3M641.50 283.43h-7.3M362.50 374.98h3.8M641.50 374.98h-3.8M362.50 313.95h3.8M641.50 313.95h-3.8M362.50 252.91h3.8M641.50 252.91h-3.8" stroke="#000" stroke-width="1.2" fill="none"/>
<g clip-path="url(#cd)"><path d="M363.30 399.53V404.69M359.00 399.53h8.6M359.00 404.69h8.6M364.70 397.50V402.81M360.40 397.50h8.6M360.40 402.81h8.6M366.10 396.72V402.09M361.80 396.72h8.6M361.80 402.09h8.6M367.50 398.63V403.86M363.20 398.63h8.6M363.20 403.86h8.6M368.90 399.67V404.81M364.60 399.67h8.6M364.60 404.81h8.6M370.30 398.06V403.33M366.00 398.06h8.6M366.00 403.33h8.6M371.70 397.37V402.69M367.40 397.37h8.6M367.40 402.69h8.6M373.10 396.59V401.97M368.80 396.59h8.6M368.80 401.97h8.6M374.50 399.52V404.68M370.20 399.52h8.6M370.20 404.68h8.6M375.90 399.62V404.77M371.60 399.62h8.6M371.60 404.77h8.6M377.30 397.08V402.43M373.00 397.08h8.6M373.00 402.43h8.6M378.70 397.38V402.70M374.40 397.38h8.6M374.40 402.70h8.6M380.10 396.03V401.46M375.80 396.03h8.6M375.80 401.46h8.6M381.50 396.73V402.10M377.20 396.73h8.6M377.20 402.10h8.6M382.90 398.11V403.37M378.60 398.11h8.6M378.60 403.37h8.6M384.30 398.33V403.58M380.00 398.33h8.6M380.00 403.58h8.6M385.70 394.72V400.24M381.40 394.72h8.6M381.40 400.24h8.6M387.10 398.35V403.59M382.80 398.35h8.6M382.80 403.59h8.6M388.50 398.98V404.17M384.20 398.98h8.6M384.20 404.17h8.6M389.90 399.43V404.59M385.60 399.43h8.6M385.60 404.59h8.6M391.30 397.86V403.14M387.00 397.86h8.6M387.00 403.14h8.6M392.70 397.80V403.08M388.40 397.80h8.6M388.40 403.08h8.6M394.10 398.42V403.66M389.80 398.42h8.6M389.80 403.66h8.6M395.50 398.06V403.33M391.20 398.06h8.6M391.20 403.33h8.6M396.90 397.63V402.93M392.60 397.63h8.6M392.60 402.93h8.6M398.30 397.10V402.44M394.00 397.10h8.6M394.00 402.44h8.6M399.70 396.59V401.97M395.40 396.59h8.6M395.40 401.97h8.6M401.10 397.71V403.01M396.80 397.71h8.6M396.80 403.01h8.6M402.50 400.25V405.35M398.20 400.25h8.6M398.20 405.35h8.6M403.90 397.09V402.43M399.60 397.09h8.6M399.60 402.43h8.6M405.30 399.78V404.92M401.00 399.78h8.6M401.00 404.92h8.6M406.70 398.20V403.45M402.40 398.20h8.6M402.40 403.45h8.6M408.10 399.85V404.98M403.80 399.85h8.6M403.80 404.98h8.6M409.50 397.98V403.25M405.20 397.98h8.6M405.20 403.25h8.6M410.90 398.97V404.17M406.60 398.97h8.6M406.60 404.17h8.6M412.30 397.71V403.00M408.00 397.71h8.6M408.00 403.00h8.6M413.70 393.79V399.39M409.40 393.79h8.6M409.40 399.39h8.6M415.10 398.04V403.31M410.80 398.04h8.6M410.80 403.31h8.6M416.50 396.91V402.27M412.20 396.91h8.6M412.20 402.27h8.6M417.90 399.66V404.80M413.60 399.66h8.6M413.60 404.80h8.6M419.30 398.34V403.59M415.00 398.34h8.6M415.00 403.59h8.6M420.70 397.14V402.48M416.40 397.14h8.6M416.40 402.48h8.6M422.10 398.09V403.36M417.80 398.09h8.6M417.80 403.36h8.6M423.50 397.51V402.82M419.20 397.51h8.6M419.20 402.82h8.6M424.90 397.84V403.13M420.60 397.84h8.6M420.60 403.13h8.6M426.30 399.25V404.42M422.00 399.25h8.6M422.00 404.42h8.6M427.70 397.25V402.58M423.40 397.25h8.6M423.40 402.58h8.6M429.10 398.99V404.18M424.80 398.99h8.6M424.80 404.18h8.6M430.50 395.57V401.03M426.20 395.57h8.6M426.20 401.03h8.6M431.90 398.58V403.80M427.60 398.58h8.6M427.60 403.80h8.6M433.30 397.04V402.39M429.00 397.04h8.6M429.00 402.39h8.6M434.70 397.88V403.17M430.40 397.88h8.6M430.40 403.17h8.6M436.10 396.64V402.02M431.80 396.64h8.6M431.80 402.02h8.6M437.50 398.57V403.80M433.20 398.57h8.6M433.20 403.80h8.6M438.90 396.46V401.85M434.60 396.46h8.6M434.60 401.85h8.6M440.30 397.80V403.09M436.00 397.80h8.6M436.00 403.09h8.6M441.70 395.91V401.34M437.40 395.91h8.6M437.40 401.34h8.6M443.10 396.57V401.95M438.80 396.57h8.6M438.80 401.95h8.6M444.50 396.99V402.34M440.20 396.99h8.6M440.20 402.34h8.6M445.90 397.93V403.20M441.60 397.93h8.6M441.60 403.20h8.6M447.30 395.58V401.04M443.00 395.58h8.6M443.00 401.04h8.6M448.70 395.55V401.01M444.40 395.55h8.6M444.40 401.01h8.6M450.10 393.46V399.08M445.80 393.46h8.6M445.80 399.08h8.6M451.50 395.49V400.95M447.20 395.49h8.6M447.20 400.95h8.6M452.90 393.41V399.04M448.60 393.41h8.6M448.60 399.04h8.6M454.30 392.47V398.17M450.00 392.47h8.6M450.00 398.17h8.6M455.70 391.57V397.33M451.40 391.57h8.6M451.40 397.33h8.6M457.10 390.21V396.08M452.80 390.21h8.6M452.80 396.08h8.6M458.50 388.50V394.51M454.20 388.50h8.6M454.20 394.51h8.6M459.90 387.65V393.72M455.60 387.65h8.6M455.60 393.72h8.6M461.30 385.96V392.16M457.00 385.96h8.6M457.00 392.16h8.6M464.30 378.53V385.30M460.00 378.53h8.6M460.00 385.30h8.6M467.30 368.10V375.67M463.00 368.10h8.6M463.00 375.67h8.6M470.30 355.08V363.65M466.00 355.08h8.6M466.00 363.65h8.6M473.30 343.02V352.52M469.00 343.02h8.6M469.00 352.52h8.6M476.30 327.65V338.33M472.00 327.65h8.6M472.00 338.33h8.6M479.30 312.17V324.04M475.00 312.17h8.6M475.00 324.04h8.6M482.30 295.93V309.05M478.00 295.93h8.6M478.00 309.05h8.6M486.00 283.56V297.64M481.70 283.56h8.6M481.70 297.64h8.6M488.00 271.50V286.50M483.70 271.50h8.6M483.70 286.50h8.6M493.00 259.02V274.98M488.70 259.02h8.6M488.70 274.98h8.6M497.50 255.90V272.10M493.20 255.90h8.6M493.20 272.10h8.6M501.50 253.82V270.18M497.20 253.82h8.6M497.20 270.18h8.6M506.30 281.90V296.10M502.00 281.90h8.6M502.00 296.10h8.6M507.30 303.95V316.45M503.00 303.95h8.6M503.00 316.45h8.6M513.40 321.21V332.39M509.10 321.21h8.6M509.10 332.39h8.6M518.10 337.02V346.98M513.80 337.02h8.6M513.80 346.98h8.6M520.50 347.52V356.68M516.20 347.52h8.6M516.20 356.68h8.6M524.30 354.07V362.73M520.00 354.07h8.6M520.00 362.73h8.6M527.50 366.14V373.86M523.20 366.14h8.6M523.20 373.86h8.6M533.00 372.38V379.62M528.70 372.38h8.6M528.70 379.62h8.6M537.60 377.58V384.42M533.30 377.58h8.6M533.30 384.42h8.6M544.60 389.64V395.56M540.30 389.64h8.6M540.30 395.56h8.6M546.30 390.00V395.89M542.00 390.00h8.6M542.00 395.89h8.6M547.70 390.05V395.93M543.40 390.05h8.6M543.40 395.93h8.6M549.10 392.48V398.18M544.80 392.48h8.6M544.80 398.18h8.6M550.50 394.96V400.47M546.20 394.96h8.6M546.20 400.47h8.6M551.90 394.04V399.62M547.60 394.04h8.6M547.60 399.62h8.6M553.30 392.73V398.41M549.00 392.73h8.6M549.00 398.41h8.6M554.70 392.59V398.28M550.40 392.59h8.6M550.40 398.28h8.6M556.10 391.42V397.20M551.80 391.42h8.6M551.80 397.20h8.6M557.50 395.15V400.64M553.20 395.15h8.6M553.20 400.64h8.6M558.90 393.96V399.54M554.60 393.96h8.6M554.60 399.54h8.6M560.30 393.25V398.88M556.00 393.25h8.6M556.00 398.88h8.6M561.70 394.51V400.05M557.40 394.51h8.6M557.40 400.05h8.6M563.10 397.66V402.96M558.80 397.66h8.6M558.80 402.96h8.6M564.50 393.49V399.11M560.20 393.49h8.6M560.20 399.11h8.6M565.90 391.59V397.35M561.60 391.59h8.6M561.60 397.35h8.6M567.30 393.48V399.10M563.00 393.48h8.6M563.00 399.10h8.6M568.70 396.18V401.59M564.40 396.18h8.6M564.40 401.59h8.6M570.10 395.61V401.06M565.80 395.61h8.6M565.80 401.06h8.6M571.50 394.86V400.37M567.20 394.86h8.6M567.20 400.37h8.6M572.90 391.92V397.66M568.60 391.92h8.6M568.60 397.66h8.6M574.30 394.52V400.06M570.00 394.52h8.6M570.00 400.06h8.6M575.70 395.28V400.76M571.40 395.28h8.6M571.40 400.76h8.6M577.10 393.44V399.06M572.80 393.44h8.6M572.80 399.06h8.6M578.50 395.70V401.15M574.20 395.70h8.6M574.20 401.15h8.6M579.90 393.20V398.84M575.60 393.20h8.6M575.60 398.84h8.6M581.30 396.65V402.02M577.00 396.65h8.6M577.00 402.02h8.6M582.70 396.43V401.83M578.40 396.43h8.6M578.40 401.83h8.6M584.10 394.92V400.43M579.80 394.92h8.6M579.80 400.43h8.6M585.50 394.05V399.63M581.20 394.05h8.6M581.20 399.63h8.6M586.90 395.13V400.62M582.60 395.13h8.6M582.60 400.62h8.6M588.30 395.65V401.11M584.00 395.65h8.6M584.00 401.11h8.6M589.70 398.50V403.74M585.40 398.50h8.6M585.40 403.74h8.6M591.10 397.10V402.44M586.80 397.10h8.6M586.80 402.44h8.6M592.50 397.01V402.36M588.20 397.01h8.6M588.20 402.36h8.6M593.90 396.96V402.31M589.60 396.96h8.6M589.60 402.31h8.6M595.30 395.53V401.00M591.00 395.53h8.6M591.00 401.00h8.6M596.70 396.79V402.15M592.40 396.79h8.6M592.40 402.15h8.6M598.10 395.36V400.83M593.80 395.36h8.6M593.80 400.83h8.6M599.50 396.32V401.72M595.20 396.32h8.6M595.20 401.72h8.6M600.90 396.91V402.26M596.60 396.91h8.6M596.60 402.26h8.6M602.30 396.35V401.75M598.00 396.35h8.6M598.00 401.75h8.6M603.70 395.99V401.41M599.40 395.99h8.6M599.40 401.41h8.6M605.10 395.46V400.93M600.80 395.46h8.6M600.80 400.93h8.6M606.50 397.24V402.57M602.20 397.24h8.6M602.20 402.57h8.6M607.90 396.95V402.30M603.60 396.95h8.6M603.60 402.30h8.6M609.30 398.46V403.69M605.00 398.46h8.6M605.00 403.69h8.6M610.70 394.62V400.16M606.40 394.62h8.6M606.40 400.16h8.6M612.10 394.85V400.37M607.80 394.85h8.6M607.80 400.37h8.6M613.50 397.00V402.35M609.20 397.00h8.6M609.20 402.35h8.6M614.90 397.42V402.73M610.60 397.42h8.6M610.60 402.73h8.6M616.30 398.43V403.67M612.00 398.43h8.6M612.00 403.67h8.6M617.70 396.63V402.01M613.40 396.63h8.6M613.40 402.01h8.6M619.10 396.61V401.99M614.80 396.61h8.6M614.80 401.99h8.6M620.50 394.07V399.64M616.20 394.07h8.6M616.20 399.64h8.6M621.90 396.60V401.98M617.60 396.60h8.6M617.60 401.98h8.6M623.30 397.95V403.23M619.00 397.95h8.6M619.00 403.23h8.6M624.70 400.13V405.24M620.40 400.13h8.6M620.40 405.24h8.6M626.10 395.16V400.65M621.80 395.16h8.6M621.80 400.65h8.6M627.50 396.76V402.13M623.20 396.76h8.6M623.20 402.13h8.6M628.90 399.11V404.30M624.60 399.11h8.6M624.60 404.30h8.6M630.30 396.81V402.18M626.00 396.81h8.6M626.00 402.18h8.6M631.70 399.14V404.33M627.40 399.14h8.6M627.40 404.33h8.6M633.10 392.59V398.28M628.80 392.59h8.6M628.80 398.28h8.6M634.50 395.66V401.11M630.20 395.66h8.6M630.20 401.11h8.6M635.90 396.38V401.78M631.60 396.38h8.6M631.60 401.78h8.6M637.30 397.36V402.68M633.00 397.36h8.6M633.00 402.68h8.6M638.70 399.91V405.04M634.40 399.91h8.6M634.40 405.04h8.6M640.10 397.33V402.65M635.80 397.33h8.6M635.80 402.65h8.6M641.50 399.19V404.37M637.20 399.19h8.6M637.20 404.37h8.6M642.90 396.43V401.82M638.60 396.43h8.6M638.60 401.82h8.6" stroke="#f00" stroke-width="0.8" fill="none"/><circle cx="363.30" cy="402.11" r="3.7" fill="#f00"/><circle cx="364.70" cy="400.16" r="3.7" fill="#f00"/><circle cx="366.10" cy="399.40" r="3.7" fill="#f00"/><circle cx="367.50" cy="401.24" r="3.7" fill="#f00"/><circle cx="368.90" cy="402.24" r="3.7" fill="#f00"/><circle cx="370.30" cy="400.70" r="3.7" fill="#f00"/><circle cx="371.70" cy="400.03" r="3.7" fill="#f00"/><circle cx="373.10" cy="399.28" r="3.7" fill="#f00"/><circle cx="374.50" cy="402.10" r="3.7" fill="#f00"/><circle cx="375.90" cy="402.20" r="3.7" fill="#f00"/><circle cx="377.30" cy="399.76" r="3.7" fill="#f00"/><circle cx="378.70" cy="400.04" r="3.7" fill="#f00"/><circle cx="380.10" cy="398.74" r="3.7" fill="#f00"/><circle cx="381.50" cy="399.42" r="3.7" fill="#f00"/><circle cx="382.90" cy="400.74" r="3.7" fill="#f00"/><circle cx="384.30" cy="400.95" r="3.7" fill="#f00"/><circle cx="385.70" cy="397.48" r="3.7" fill="#f00"/><circle cx="387.10" cy="400.97" r="3.7" fill="#f00"/><circle cx="388.50" cy="401.58" r="3.7" fill="#f00"/><circle cx="389.90" cy="402.01" r="3.7" fill="#f00"/><circle cx="391.30" cy="400.50" r="3.7" fill="#f00"/><circle cx="392.70" cy="400.44" r="3.7" fill="#f00"/><circle cx="394.10" cy="401.04" r="3.7" fill="#f00"/><circle cx="395.50" cy="400.69" r="3.7" fill="#f00"/><circle cx="396.90" cy="400.28" r="3.7" fill="#f00"/><circle cx="398.30" cy="399.77" r="3.7" fill="#f00"/><circle cx="399.70" cy="399.28" r="3.7" fill="#f00"/><circle cx="401.10" cy="400.36" r="3.7" fill="#f00"/><circle cx="402.50" cy="402.80" r="3.7" fill="#f00"/><circle cx="403.90" cy="399.76" r="3.7" fill="#f00"/><circle cx="405.30" cy="402.35" r="3.7" fill="#f00"/><circle cx="406.70" cy="400.83" r="3.7" fill="#f00"/><circle cx="408.10" cy="402.42" r="3.7" fill="#f00"/><circle cx="409.50" cy="400.61" r="3.7" fill="#f00"/><circle cx="410.90" cy="401.57" r="3.7" fill="#f00"/><circle cx="412.30" cy="400.36" r="3.7" fill="#f00"/><circle cx="413.70" cy="396.59" r="3.7" fill="#f00"/><circle cx="415.10" cy="400.68" r="3.7" fill="#f00"/><circle cx="416.50" cy="399.59" r="3.7" fill="#f00"/><circle cx="417.90" cy="402.23" r="3.7" fill="#f00"/><circle cx="419.30" cy="400.97" r="3.7" fill="#f00"/><circle cx="420.70" cy="399.81" r="3.7" fill="#f00"/><circle cx="422.10" cy="400.73" r="3.7" fill="#f00"/><circle cx="423.50" cy="400.16" r="3.7" fill="#f00"/><circle cx="424.90" cy="400.48" r="3.7" fill="#f00"/><circle cx="426.30" cy="401.84" r="3.7" fill="#f00"/><circle cx="427.70" cy="399.91" r="3.7" fill="#f00"/><circle cx="429.10" cy="401.59" r="3.7" fill="#f00"/><circle cx="430.50" cy="398.30" r="3.7" fill="#f00"/><circle cx="431.90" cy="401.19" r="3.7" fill="#f00"/><circle cx="433.30" cy="399.71" r="3.7" fill="#f00"/><circle cx="434.70" cy="400.52" r="3.7" fill="#f00"/><circle cx="436.10" cy="399.33" r="3.7" fill="#f00"/><circle cx="437.50" cy="401.18" r="3.7" fill="#f00"/><circle cx="438.90" cy="399.16" r="3.7" fill="#f00"/><circle cx="440.30" cy="400.45" r="3.7" fill="#f00"/><circle cx="441.70" cy="398.63" r="3.7" fill="#f00"/><circle cx="443.10" cy="399.26" r="3.7" fill="#f00"/><circle cx="444.50" cy="399.67" r="3.7" fill="#f00"/><circle cx="445.90" cy="400.56" r="3.7" fill="#f00"/><circle cx="447.30" cy="398.31" r="3.7" fill="#f00"/><circle cx="448.70" cy="398.28" r="3.7" fill="#f00"/><circle cx="450.10" cy="396.27" r="3.7" fill="#f00"/><circle cx="451.50" cy="398.22" r="3.7" fill="#f00"/><circle cx="452.90" cy="396.22" r="3.7" fill="#f00"/><circle cx="454.30" cy="395.32" r="3.7" fill="#f00"/><circle cx="455.70" cy="394.45" r="3.7" fill="#f00"/><circle cx="457.10" cy="393.15" r="3.7" fill="#f00"/><circle cx="458.50" cy="391.51" r="3.7" fill="#f00"/><circle cx="459.90" cy="390.69" r="3.7" fill="#f00"/><circle cx="461.30" cy="389.06" r="3.7" fill="#f00"/><circle cx="464.30" cy="381.91" r="3.7" fill="#f00"/><circle cx="467.30" cy="371.88" r="3.7" fill="#f00"/><circle cx="470.30" cy="359.37" r="3.7" fill="#f00"/><circle cx="473.30" cy="347.77" r="3.7" fill="#f00"/><circle cx="476.30" cy="332.99" r="3.7" fill="#f00"/><circle cx="479.30" cy="318.11" r="3.7" fill="#f00"/><circle cx="482.30" cy="302.49" r="3.7" fill="#f00"/><circle cx="486.00" cy="290.60" r="3.7" fill="#f00"/><circle cx="488.00" cy="279.00" r="3.7" fill="#f00"/><circle cx="493.00" cy="267.00" r="3.7" fill="#f00"/><circle cx="497.50" cy="264.00" r="3.7" fill="#f00"/><circle cx="501.50" cy="262.00" r="3.7" fill="#f00"/><circle cx="506.30" cy="289.00" r="3.7" fill="#f00"/><circle cx="507.30" cy="310.20" r="3.7" fill="#f00"/><circle cx="513.40" cy="326.80" r="3.7" fill="#f00"/><circle cx="518.10" cy="342.00" r="3.7" fill="#f00"/><circle cx="520.50" cy="352.10" r="3.7" fill="#f00"/><circle cx="524.30" cy="358.40" r="3.7" fill="#f00"/><circle cx="527.50" cy="370.00" r="3.7" fill="#f00"/><circle cx="533.00" cy="376.00" r="3.7" fill="#f00"/><circle cx="537.60" cy="381.00" r="3.7" fill="#f00"/><circle cx="544.60" cy="392.60" r="3.7" fill="#f00"/><circle cx="546.30" cy="392.94" r="3.7" fill="#f00"/><circle cx="547.70" cy="392.99" r="3.7" fill="#f00"/><circle cx="549.10" cy="395.33" r="3.7" fill="#f00"/><circle cx="550.50" cy="397.72" r="3.7" fill="#f00"/><circle cx="551.90" cy="396.83" r="3.7" fill="#f00"/><circle cx="553.30" cy="395.57" r="3.7" fill="#f00"/><circle cx="554.70" cy="395.44" r="3.7" fill="#f00"/><circle cx="556.10" cy="394.31" r="3.7" fill="#f00"/><circle cx="557.50" cy="397.89" r="3.7" fill="#f00"/><circle cx="558.90" cy="396.75" r="3.7" fill="#f00"/><circle cx="560.30" cy="396.07" r="3.7" fill="#f00"/><circle cx="561.70" cy="397.28" r="3.7" fill="#f00"/><circle cx="563.10" cy="400.31" r="3.7" fill="#f00"/><circle cx="564.50" cy="396.30" r="3.7" fill="#f00"/><circle cx="565.90" cy="394.47" r="3.7" fill="#f00"/><circle cx="567.30" cy="396.29" r="3.7" fill="#f00"/><circle cx="568.70" cy="398.89" r="3.7" fill="#f00"/><circle cx="570.10" cy="398.34" r="3.7" fill="#f00"/><circle cx="571.50" cy="397.62" r="3.7" fill="#f00"/><circle cx="572.90" cy="394.79" r="3.7" fill="#f00"/><circle cx="574.30" cy="397.29" r="3.7" fill="#f00"/><circle cx="575.70" cy="398.02" r="3.7" fill="#f00"/><circle cx="577.10" cy="396.25" r="3.7" fill="#f00"/><circle cx="578.50" cy="398.42" r="3.7" fill="#f00"/><circle cx="579.90" cy="396.02" r="3.7" fill="#f00"/><circle cx="581.30" cy="399.33" r="3.7" fill="#f00"/><circle cx="582.70" cy="399.13" r="3.7" fill="#f00"/><circle cx="584.10" cy="397.67" r="3.7" fill="#f00"/><circle cx="585.50" cy="396.84" r="3.7" fill="#f00"/><circle cx="586.90" cy="397.88" r="3.7" fill="#f00"/><circle cx="588.30" cy="398.38" r="3.7" fill="#f00"/><circle cx="589.70" cy="401.12" r="3.7" fill="#f00"/><circle cx="591.10" cy="399.77" r="3.7" fill="#f00"/><circle cx="592.50" cy="399.68" r="3.7" fill="#f00"/><circle cx="593.90" cy="399.63" r="3.7" fill="#f00"/><circle cx="595.30" cy="398.26" r="3.7" fill="#f00"/><circle cx="596.70" cy="399.47" r="3.7" fill="#f00"/><circle cx="598.10" cy="398.10" r="3.7" fill="#f00"/><circle cx="599.50" cy="399.02" r="3.7" fill="#f00"/><circle cx="600.90" cy="399.58" r="3.7" fill="#f00"/><circle cx="602.30" cy="399.05" r="3.7" fill="#f00"/><circle cx="603.70" cy="398.70" r="3.7" fill="#f00"/><circle cx="605.10" cy="398.20" r="3.7" fill="#f00"/><circle cx="606.50" cy="399.90" r="3.7" fill="#f00"/><circle cx="607.90" cy="399.63" r="3.7" fill="#f00"/><circle cx="609.30" cy="401.07" r="3.7" fill="#f00"/><circle cx="610.70" cy="397.39" r="3.7" fill="#f00"/><circle cx="612.10" cy="397.61" r="3.7" fill="#f00"/><circle cx="613.50" cy="399.68" r="3.7" fill="#f00"/><circle cx="614.90" cy="400.08" r="3.7" fill="#f00"/><circle cx="616.30" cy="401.05" r="3.7" fill="#f00"/><circle cx="617.70" cy="399.32" r="3.7" fill="#f00"/><circle cx="619.10" cy="399.30" r="3.7" fill="#f00"/><circle cx="620.50" cy="396.86" r="3.7" fill="#f00"/><circle cx="621.90" cy="399.29" r="3.7" fill="#f00"/><circle cx="623.30" cy="400.59" r="3.7" fill="#f00"/><circle cx="624.70" cy="402.69" r="3.7" fill="#f00"/><circle cx="626.10" cy="397.91" r="3.7" fill="#f00"/><circle cx="627.50" cy="399.45" r="3.7" fill="#f00"/><circle cx="628.90" cy="401.70" r="3.7" fill="#f00"/><circle cx="630.30" cy="399.50" r="3.7" fill="#f00"/><circle cx="631.70" cy="401.74" r="3.7" fill="#f00"/><circle cx="633.10" cy="395.43" r="3.7" fill="#f00"/><circle cx="634.50" cy="398.38" r="3.7" fill="#f00"/><circle cx="635.90" cy="399.08" r="3.7" fill="#f00"/><circle cx="637.30" cy="400.02" r="3.7" fill="#f00"/><circle cx="638.70" cy="402.47" r="3.7" fill="#f00"/><circle cx="640.10" cy="399.99" r="3.7" fill="#f00"/><circle cx="641.50" cy="401.78" r="3.7" fill="#f00"/><circle cx="642.90" cy="399.13" r="3.7" fill="#f00"/><path d="M364.00 399.73V404.87M359.50 399.73h9.0M359.50 404.87h9.0M365.40 398.14V403.40M360.90 398.14h9.0M360.90 403.40h9.0M366.80 395.39V400.86M362.30 395.39h9.0M362.30 400.86h9.0M368.20 394.84V400.35M363.70 394.84h9.0M363.70 400.35h9.0M369.60 398.49V403.73M365.10 398.49h9.0M365.10 403.73h9.0M371.00 398.95V404.15M366.50 398.95h9.0M366.50 404.15h9.0M372.40 395.83V401.27M367.90 395.83h9.0M367.90 401.27h9.0M373.80 395.86V401.30M369.30 395.86h9.0M369.30 401.30h9.0M375.20 398.24V403.50M370.70 398.24h9.0M370.70 403.50h9.0M376.60 397.86V403.15M372.10 397.86h9.0M372.10 403.15h9.0M378.00 397.86V403.15M373.50 397.86h9.0M373.50 403.15h9.0M379.40 398.50V403.74M374.90 398.50h9.0M374.90 403.74h9.0M380.80 397.85V403.13M376.30 397.85h9.0M376.30 403.13h9.0M382.20 395.35V400.82M377.70 395.35h9.0M377.70 400.82h9.0M383.60 396.07V401.49M379.10 396.07h9.0M379.10 401.49h9.0M385.00 394.30V399.86M380.50 394.30h9.0M380.50 399.86h9.0M386.40 397.08V402.42M381.90 397.08h9.0M381.90 402.42h9.0M387.80 397.14V402.48M383.30 397.14h9.0M383.30 402.48h9.0M389.20 398.24V403.49M384.70 398.24h9.0M384.70 403.49h9.0M390.60 397.13V402.46M386.10 397.13h9.0M386.10 402.46h9.0M392.00 398.67V403.89M387.50 398.67h9.0M387.50 403.89h9.0M393.40 399.27V404.44M388.90 399.27h9.0M388.90 404.44h9.0M394.80 396.06V401.48M390.30 396.06h9.0M390.30 401.48h9.0M396.20 395.10V400.59M391.70 395.10h9.0M391.70 400.59h9.0M397.60 395.88V401.32M393.10 395.88h9.0M393.10 401.32h9.0M399.00 395.24V400.72M394.50 395.24h9.0M394.50 400.72h9.0M400.40 396.64V402.01M395.90 396.64h9.0M395.90 402.01h9.0M401.80 397.89V403.17M397.30 397.89h9.0M397.30 403.17h9.0M403.20 396.85V402.21M398.70 396.85h9.0M398.70 402.21h9.0M404.60 397.45V402.76M400.10 397.45h9.0M400.10 402.76h9.0M406.00 398.40V403.64M401.50 398.40h9.0M401.50 403.64h9.0M407.40 399.16V404.34M402.90 399.16h9.0M402.90 404.34h9.0M408.80 398.88V404.09M404.30 398.88h9.0M404.30 404.09h9.0M410.20 396.97V402.32M405.70 396.97h9.0M405.70 402.32h9.0M411.60 396.77V402.14M407.10 396.77h9.0M407.10 402.14h9.0M413.00 397.58V402.88M408.50 397.58h9.0M408.50 402.88h9.0M414.40 395.11V400.61M409.90 395.11h9.0M409.90 400.61h9.0M415.80 396.73V402.10M411.30 396.73h9.0M411.30 402.10h9.0M417.20 396.21V401.62M412.70 396.21h9.0M412.70 401.62h9.0M418.60 395.39V400.86M414.10 395.39h9.0M414.10 400.86h9.0M420.00 398.03V403.30M415.50 398.03h9.0M415.50 403.30h9.0M421.40 399.51V404.67M416.90 399.51h9.0M416.90 404.67h9.0M422.80 395.99V401.42M418.30 395.99h9.0M418.30 401.42h9.0M424.20 397.85V403.14M419.70 397.85h9.0M419.70 403.14h9.0M425.60 395.26V400.75M421.10 395.26h9.0M421.10 400.75h9.0M427.00 396.52V401.91M422.50 396.52h9.0M422.50 401.91h9.0M428.40 395.66V401.11M423.90 395.66h9.0M423.90 401.11h9.0M429.80 395.97V401.40M425.30 395.97h9.0M425.30 401.40h9.0M431.20 399.65V404.79M426.70 399.65h9.0M426.70 404.79h9.0M432.60 396.02V401.44M428.10 396.02h9.0M428.10 401.44h9.0M434.00 397.81V403.10M429.50 397.81h9.0M429.50 403.10h9.0M435.40 397.91V403.19M430.90 397.91h9.0M430.90 403.19h9.0M436.80 397.48V402.79M432.30 397.48h9.0M432.30 402.79h9.0M438.20 395.90V401.33M433.70 395.90h9.0M433.70 401.33h9.0M439.60 395.72V401.17M435.10 395.72h9.0M435.10 401.17h9.0M441.00 395.51V400.98M436.50 395.51h9.0M436.50 400.98h9.0M442.40 398.93V404.13M437.90 398.93h9.0M437.90 404.13h9.0M443.80 397.47V402.78M439.30 397.47h9.0M439.30 402.78h9.0M445.20 399.71V404.85M440.70 399.71h9.0M440.70 404.85h9.0M446.60 396.62V402.00M442.10 396.62h9.0M442.10 402.00h9.0M448.00 395.54V401.00M443.50 395.54h9.0M443.50 401.00h9.0M449.40 397.12V402.46M444.90 397.12h9.0M444.90 402.46h9.0M450.80 395.52V400.98M446.30 395.52h9.0M446.30 400.98h9.0M452.20 395.19V400.68M447.70 395.19h9.0M447.70 400.68h9.0M453.60 393.71V399.31M449.10 393.71h9.0M449.10 399.31h9.0M455.00 395.63V401.08M450.50 395.63h9.0M450.50 401.08h9.0M456.40 394.97V400.48M451.90 394.97h9.0M451.90 400.48h9.0M457.80 394.06V399.64M453.30 394.06h9.0M453.30 399.64h9.0M460.60 390.68V396.52M456.10 390.68h9.0M456.10 396.52h9.0M463.90 386.00V392.20M459.40 386.00h9.0M459.40 392.20h9.0M467.30 379.03V385.77M462.80 379.03h9.0M462.80 385.77h9.0M471.70 369.78V377.22M467.20 369.78h9.0M467.20 377.22h9.0M473.90 360.52V368.68M469.40 360.52h9.0M469.40 368.68h9.0M477.30 347.83V356.97M472.80 347.83h9.0M472.80 356.97h9.0M480.60 336.19V346.21M476.10 336.19h9.0M476.10 346.21h9.0M482.80 322.25V333.35M478.30 322.25h9.0M478.30 333.35h9.0M487.30 300.31V313.09M482.80 300.31h9.0M482.80 313.09h9.0M489.50 286.16V300.04M485.00 286.16h9.0M485.00 300.04h9.0M492.00 274.20V289.00M487.50 274.20h9.0M487.50 289.00h9.0M494.50 265.26V280.74M490.00 265.26h9.0M490.00 280.74h9.0M498.50 259.02V274.98M494.00 259.02h9.0M494.00 274.98h9.0M500.60 264.74V280.26M496.10 264.74h9.0M496.10 280.26h9.0M501.50 269.42V284.58M497.00 269.42h9.0M497.00 284.58h9.0M505.60 268.90V284.10M501.10 268.90h9.0M501.10 284.10h9.0M508.10 259.54V275.46M503.60 259.54h9.0M503.60 275.46h9.0M509.60 279.92V294.28M505.10 279.92h9.0M505.10 294.28h9.0M512.20 305.92V318.28M507.70 305.92h9.0M507.70 318.28h9.0M514.60 309.67V321.73M510.10 309.67h9.0M510.10 321.73h9.0M517.00 315.49V327.11M512.50 315.49h9.0M512.50 327.11h9.0M520.70 326.93V337.67M516.20 326.93h9.0M516.20 337.67h9.0M523.60 340.24V349.96M519.10 340.24h9.0M519.10 349.96h9.0M526.70 356.47V364.93M522.20 356.47h9.0M522.20 364.93h9.0M530.60 361.35V369.45M526.10 361.35h9.0M526.10 369.45h9.0M534.50 371.03V378.37M530.00 371.03h9.0M530.00 378.37h9.0M538.40 378.31V385.09M533.90 378.31h9.0M533.90 385.09h9.0M542.30 381.53V388.07M537.80 381.53h9.0M537.80 388.07h9.0M546.20 385.59V391.81M541.70 385.59h9.0M541.70 391.81h9.0M550.00 388.91V394.89M545.50 388.91h9.0M545.50 394.89h9.0M555.50 390.47V396.33M551.00 390.47h9.0M551.00 396.33h9.0M560.20 392.14V397.86M555.70 392.14h9.0M555.70 397.86h9.0M562.60 390.91V396.73M558.10 390.91h9.0M558.10 396.73h9.0M564.00 394.04V399.62M559.50 394.04h9.0M559.50 399.62h9.0M565.40 392.24V397.96M560.90 392.24h9.0M560.90 397.96h9.0M566.80 392.33V398.04M562.30 392.33h9.0M562.30 398.04h9.0M568.20 395.71V401.16M563.70 395.71h9.0M563.70 401.16h9.0M569.60 395.85V401.29M565.10 395.85h9.0M565.10 401.29h9.0M571.00 395.11V400.60M566.50 395.11h9.0M566.50 400.60h9.0M572.40 392.71V398.39M567.90 392.71h9.0M567.90 398.39h9.0M573.80 392.28V398.00M569.30 392.28h9.0M569.30 398.00h9.0M575.20 395.83V401.27M570.70 395.83h9.0M570.70 401.27h9.0M576.60 392.83V398.50M572.10 392.83h9.0M572.10 398.50h9.0M578.00 394.87V400.38M573.50 394.87h9.0M573.50 400.38h9.0M579.40 394.97V400.47M574.90 394.97h9.0M574.90 400.47h9.0M580.80 395.26V400.75M576.30 395.26h9.0M576.30 400.75h9.0M582.20 395.03V400.53M577.70 395.03h9.0M577.70 400.53h9.0M583.60 397.13V402.47M579.10 397.13h9.0M579.10 402.47h9.0M585.00 396.09V401.51M580.50 396.09h9.0M580.50 401.51h9.0M586.40 396.48V401.87M581.90 396.48h9.0M581.90 401.87h9.0M587.80 394.21V399.78M583.30 394.21h9.0M583.30 399.78h9.0M589.20 392.13V397.85M584.70 392.13h9.0M584.70 397.85h9.0M590.60 391.33V397.11M586.10 391.33h9.0M586.10 397.11h9.0M592.00 395.51V400.97M587.50 395.51h9.0M587.50 400.97h9.0M593.40 397.42V402.73M588.90 397.42h9.0M588.90 402.73h9.0M594.80 395.71V401.16M590.30 395.71h9.0M590.30 401.16h9.0M596.20 396.47V401.86M591.70 396.47h9.0M591.70 401.86h9.0M597.60 392.61V398.29M593.10 392.61h9.0M593.10 398.29h9.0M599.00 394.54V400.08M594.50 394.54h9.0M594.50 400.08h9.0M600.40 396.32V401.72M595.90 396.32h9.0M595.90 401.72h9.0M601.80 394.14V399.71M597.30 394.14h9.0M597.30 399.71h9.0M603.20 394.72V400.24M598.70 394.72h9.0M598.70 400.24h9.0M604.60 397.64V402.94M600.10 397.64h9.0M600.10 402.94h9.0M606.00 396.22V401.63M601.50 396.22h9.0M601.50 401.63h9.0M607.40 395.87V401.30M602.90 395.87h9.0M602.90 401.30h9.0M608.80 395.56V401.02M604.30 395.56h9.0M604.30 401.02h9.0M610.20 395.44V400.91M605.70 395.44h9.0M605.70 400.91h9.0M611.60 396.10V401.52M607.10 396.10h9.0M607.10 401.52h9.0M613.00 395.43V400.90M608.50 395.43h9.0M608.50 400.90h9.0M614.40 396.49V401.88M609.90 396.49h9.0M609.90 401.88h9.0M615.80 396.93V402.28M611.30 396.93h9.0M611.30 402.28h9.0M617.20 393.76V399.36M612.70 393.76h9.0M612.70 399.36h9.0M618.60 395.32V400.80M614.10 395.32h9.0M614.10 400.80h9.0M620.00 395.24V400.73M615.50 395.24h9.0M615.50 400.73h9.0M621.40 397.96V403.23M616.90 397.96h9.0M616.90 403.23h9.0M622.80 396.09V401.51M618.30 396.09h9.0M618.30 401.51h9.0M624.20 394.81V400.33M619.70 394.81h9.0M619.70 400.33h9.0M625.60 397.63V402.93M621.10 397.63h9.0M621.10 402.93h9.0M627.00 394.49V400.04M622.50 394.49h9.0M622.50 400.04h9.0M628.40 396.48V401.87M623.90 396.48h9.0M623.90 401.87h9.0M629.80 395.45V400.92M625.30 395.45h9.0M625.30 400.92h9.0M631.20 396.18V401.59M626.70 396.18h9.0M626.70 401.59h9.0M632.60 395.74V401.18M628.10 395.74h9.0M628.10 401.18h9.0M634.00 394.46V400.00M629.50 394.46h9.0M629.50 400.00h9.0M635.40 396.60V401.98M630.90 396.60h9.0M630.90 401.98h9.0M636.80 394.02V399.60M632.30 394.02h9.0M632.30 399.60h9.0M638.20 397.13V402.47M633.70 397.13h9.0M633.70 402.47h9.0M639.60 397.34V402.67M635.10 397.34h9.0M635.10 402.67h9.0M641.00 395.20V400.68M636.50 395.20h9.0M636.50 400.68h9.0M642.40 397.55V402.86M637.90 397.55h9.0M637.90 402.86h9.0" stroke="#00f" stroke-width="0.8" fill="none"/><circle cx="364.00" cy="402.30" r="3.4" fill="#fff" stroke="#00f" stroke-width="1.25"/><circle cx="365.40" cy="400.77" r="3.4" fill="#fff" stroke="#00f" stroke-width="1.25"/><circle cx="366.80" cy="398.12" r="3.4" fill="#fff" stroke="#00f" stroke-width="1.25"/><circle cx="368.20" cy="397.59" r="3.4" fill="#fff" stroke="#00f" stroke-width="1.25"/><circle cx="369.60" cy="401.11" r="3.4" fill="#fff" stroke="#00f" stroke-width="1.25"/><circle cx="371.00" cy="401.55" r="3.4" fill="#fff" stroke="#00f" stroke-width="1.25"/><circle cx="372.40" cy="398.55" r="3.4" fill="#fff" stroke="#00f" stroke-width="1.25"/><circle cx="373.80" cy="398.58" r="3.4" fill="#fff" stroke="#00f" stroke-width="1.25"/><circle cx="375.20" cy="400.87" r="3.4" fill="#fff" stroke="#00f" stroke-width="1.25"/><circle cx="376.60" cy="400.51" r="3.4" fill="#fff" stroke="#00f" stroke-width="1.25"/><circle cx="378.00" cy="400.50" r="3.4" fill="#fff" stroke="#00f" stroke-width="1.25"/><circle cx="379.40" cy="401.12" r="3.4" fill="#fff" stroke="#00f" stroke-width="1.25"/><circle cx="380.80" cy="400.49" r="3.4" fill="#fff" stroke="#00f" stroke-width="1.25"/><circle cx="382.20" cy="398.08" r="3.4" fill="#fff" stroke="#00f" stroke-width="1.25"/><circle cx="383.60" cy="398.78" r="3.4" fill="#fff" stroke="#00f" stroke-width="1.25"/><circle cx="385.00" cy="397.08" r="3.4" fill="#fff" stroke="#00f" stroke-width="1.25"/><circle cx="386.40" cy="399.75" r="3.4" fill="#fff" stroke="#00f" stroke-width="1.25"/><circle cx="387.80" cy="399.81" r="3.4" fill="#fff" stroke="#00f" stroke-width="1.25"/><circle cx="389.20" cy="400.86" r="3.4" fill="#fff" stroke="#00f" stroke-width="1.25"/><circle cx="390.60" cy="399.79" r="3.4" fill="#fff" stroke="#00f" stroke-width="1.25"/><circle cx="392.00" cy="401.28" r="3.4" fill="#fff" stroke="#00f" stroke-width="1.25"/><circle cx="393.40" cy="401.85" r="3.4" fill="#fff" stroke="#00f" stroke-width="1.25"/><circle cx="394.80" cy="398.77" r="3.4" fill="#fff" stroke="#00f" stroke-width="1.25"/><circle cx="396.20" cy="397.85" r="3.4" fill="#fff" stroke="#00f" stroke-width="1.25"/><circle cx="397.60" cy="398.60" r="3.4" fill="#fff" stroke="#00f" stroke-width="1.25"/><circle cx="399.00" cy="397.98" r="3.4" fill="#fff" stroke="#00f" stroke-width="1.25"/><circle cx="400.40" cy="399.33" r="3.4" fill="#fff" stroke="#00f" stroke-width="1.25"/><circle cx="401.80" cy="400.53" r="3.4" fill="#fff" stroke="#00f" stroke-width="1.25"/><circle cx="403.20" cy="399.53" r="3.4" fill="#fff" stroke="#00f" stroke-width="1.25"/><circle cx="404.60" cy="400.11" r="3.4" fill="#fff" stroke="#00f" stroke-width="1.25"/><circle cx="406.00" cy="401.02" r="3.4" fill="#fff" stroke="#00f" stroke-width="1.25"/><circle cx="407.40" cy="401.75" r="3.4" fill="#fff" stroke="#00f" stroke-width="1.25"/><circle cx="408.80" cy="401.49" r="3.4" fill="#fff" stroke="#00f" stroke-width="1.25"/><circle cx="410.20" cy="399.65" r="3.4" fill="#fff" stroke="#00f" stroke-width="1.25"/><circle cx="411.60" cy="399.45" r="3.4" fill="#fff" stroke="#00f" stroke-width="1.25"/><circle cx="413.00" cy="400.23" r="3.4" fill="#fff" stroke="#00f" stroke-width="1.25"/><circle cx="414.40" cy="397.86" r="3.4" fill="#fff" stroke="#00f" stroke-width="1.25"/><circle cx="415.80" cy="399.42" r="3.4" fill="#fff" stroke="#00f" stroke-width="1.25"/><circle cx="417.20" cy="398.91" r="3.4" fill="#fff" stroke="#00f" stroke-width="1.25"/><circle cx="418.60" cy="398.12" r="3.4" fill="#fff" stroke="#00f" stroke-width="1.25"/><circle cx="420.00" cy="400.66" r="3.4" fill="#fff" stroke="#00f" stroke-width="1.25"/><circle cx="421.40" cy="402.09" r="3.4" fill="#fff" stroke="#00f" stroke-width="1.25"/><circle cx="422.80" cy="398.70" r="3.4" fill="#fff" stroke="#00f" stroke-width="1.25"/><circle cx="424.20" cy="400.50" r="3.4" fill="#fff" stroke="#00f" stroke-width="1.25"/><circle cx="425.60" cy="398.01" r="3.4" fill="#fff" stroke="#00f" stroke-width="1.25"/><circle cx="427.00" cy="399.22" r="3.4" fill="#fff" stroke="#00f" stroke-width="1.25"/><circle cx="428.40" cy="398.38" r="3.4" fill="#fff" stroke="#00f" stroke-width="1.25"/><circle cx="429.80" cy="398.68" r="3.4" fill="#fff" stroke="#00f" stroke-width="1.25"/><circle cx="431.20" cy="402.22" r="3.4" fill="#fff" stroke="#00f" stroke-width="1.25"/><circle cx="432.60" cy="398.73" r="3.4" fill="#fff" stroke="#00f" stroke-width="1.25"/><circle cx="434.00" cy="400.46" r="3.4" fill="#fff" stroke="#00f" stroke-width="1.25"/><circle cx="435.40" cy="400.55" r="3.4" fill="#fff" stroke="#00f" stroke-width="1.25"/><circle cx="436.80" cy="400.13" r="3.4" fill="#fff" stroke="#00f" stroke-width="1.25"/><circle cx="438.20" cy="398.61" r="3.4" fill="#fff" stroke="#00f" stroke-width="1.25"/><circle cx="439.60" cy="398.44" r="3.4" fill="#fff" stroke="#00f" stroke-width="1.25"/><circle cx="441.00" cy="398.24" r="3.4" fill="#fff" stroke="#00f" stroke-width="1.25"/><circle cx="442.40" cy="401.53" r="3.4" fill="#fff" stroke="#00f" stroke-width="1.25"/><circle cx="443.80" cy="400.13" r="3.4" fill="#fff" stroke="#00f" stroke-width="1.25"/><circle cx="445.20" cy="402.28" r="3.4" fill="#fff" stroke="#00f" stroke-width="1.25"/><circle cx="446.60" cy="399.31" r="3.4" fill="#fff" stroke="#00f" stroke-width="1.25"/><circle cx="448.00" cy="398.27" r="3.4" fill="#fff" stroke="#00f" stroke-width="1.25"/><circle cx="449.40" cy="399.79" r="3.4" fill="#fff" stroke="#00f" stroke-width="1.25"/><circle cx="450.80" cy="398.25" r="3.4" fill="#fff" stroke="#00f" stroke-width="1.25"/><circle cx="452.20" cy="397.93" r="3.4" fill="#fff" stroke="#00f" stroke-width="1.25"/><circle cx="453.60" cy="396.51" r="3.4" fill="#fff" stroke="#00f" stroke-width="1.25"/><circle cx="455.00" cy="398.36" r="3.4" fill="#fff" stroke="#00f" stroke-width="1.25"/><circle cx="456.40" cy="397.73" r="3.4" fill="#fff" stroke="#00f" stroke-width="1.25"/><circle cx="457.80" cy="396.85" r="3.4" fill="#fff" stroke="#00f" stroke-width="1.25"/><circle cx="460.60" cy="393.60" r="3.4" fill="#fff" stroke="#00f" stroke-width="1.25"/><circle cx="463.90" cy="389.10" r="3.4" fill="#fff" stroke="#00f" stroke-width="1.25"/><circle cx="467.30" cy="382.40" r="3.4" fill="#fff" stroke="#00f" stroke-width="1.25"/><circle cx="471.70" cy="373.50" r="3.4" fill="#fff" stroke="#00f" stroke-width="1.25"/><circle cx="473.90" cy="364.60" r="3.4" fill="#fff" stroke="#00f" stroke-width="1.25"/><circle cx="477.30" cy="352.40" r="3.4" fill="#fff" stroke="#00f" stroke-width="1.25"/><circle cx="480.60" cy="341.20" r="3.4" fill="#fff" stroke="#00f" stroke-width="1.25"/><circle cx="482.80" cy="327.80" r="3.4" fill="#fff" stroke="#00f" stroke-width="1.25"/><circle cx="487.30" cy="306.70" r="3.4" fill="#fff" stroke="#00f" stroke-width="1.25"/><circle cx="489.50" cy="293.10" r="3.4" fill="#fff" stroke="#00f" stroke-width="1.25"/><circle cx="492.00" cy="281.60" r="3.4" fill="#fff" stroke="#00f" stroke-width="1.25"/><circle cx="494.50" cy="273.00" r="3.4" fill="#fff" stroke="#00f" stroke-width="1.25"/><circle cx="498.50" cy="267.00" r="3.4" fill="#fff" stroke="#00f" stroke-width="1.25"/><circle cx="500.60" cy="272.50" r="3.4" fill="#fff" stroke="#00f" stroke-width="1.25"/><circle cx="501.50" cy="277.00" r="3.4" fill="#fff" stroke="#00f" stroke-width="1.25"/><circle cx="505.60" cy="276.50" r="3.4" fill="#fff" stroke="#00f" stroke-width="1.25"/><circle cx="508.10" cy="267.50" r="3.4" fill="#fff" stroke="#00f" stroke-width="1.25"/><circle cx="509.60" cy="287.10" r="3.4" fill="#fff" stroke="#00f" stroke-width="1.25"/><circle cx="512.20" cy="312.10" r="3.4" fill="#fff" stroke="#00f" stroke-width="1.25"/><circle cx="514.60" cy="315.70" r="3.4" fill="#fff" stroke="#00f" stroke-width="1.25"/><circle cx="517.00" cy="321.30" r="3.4" fill="#fff" stroke="#00f" stroke-width="1.25"/><circle cx="520.70" cy="332.30" r="3.4" fill="#fff" stroke="#00f" stroke-width="1.25"/><circle cx="523.60" cy="345.10" r="3.4" fill="#fff" stroke="#00f" stroke-width="1.25"/><circle cx="526.70" cy="360.70" r="3.4" fill="#fff" stroke="#00f" stroke-width="1.25"/><circle cx="530.60" cy="365.40" r="3.4" fill="#fff" stroke="#00f" stroke-width="1.25"/><circle cx="534.50" cy="374.70" r="3.4" fill="#fff" stroke="#00f" stroke-width="1.25"/><circle cx="538.40" cy="381.70" r="3.4" fill="#fff" stroke="#00f" stroke-width="1.25"/><circle cx="542.30" cy="384.80" r="3.4" fill="#fff" stroke="#00f" stroke-width="1.25"/><circle cx="546.20" cy="388.70" r="3.4" fill="#fff" stroke="#00f" stroke-width="1.25"/><circle cx="550.00" cy="391.90" r="3.4" fill="#fff" stroke="#00f" stroke-width="1.25"/><circle cx="555.50" cy="393.40" r="3.4" fill="#fff" stroke="#00f" stroke-width="1.25"/><circle cx="560.20" cy="395.00" r="3.4" fill="#fff" stroke="#00f" stroke-width="1.25"/><circle cx="562.60" cy="393.82" r="3.4" fill="#fff" stroke="#00f" stroke-width="1.25"/><circle cx="564.00" cy="396.83" r="3.4" fill="#fff" stroke="#00f" stroke-width="1.25"/><circle cx="565.40" cy="395.10" r="3.4" fill="#fff" stroke="#00f" stroke-width="1.25"/><circle cx="566.80" cy="395.19" r="3.4" fill="#fff" stroke="#00f" stroke-width="1.25"/><circle cx="568.20" cy="398.44" r="3.4" fill="#fff" stroke="#00f" stroke-width="1.25"/><circle cx="569.60" cy="398.57" r="3.4" fill="#fff" stroke="#00f" stroke-width="1.25"/><circle cx="571.00" cy="397.85" r="3.4" fill="#fff" stroke="#00f" stroke-width="1.25"/><circle cx="572.40" cy="395.55" r="3.4" fill="#fff" stroke="#00f" stroke-width="1.25"/><circle cx="573.80" cy="395.14" r="3.4" fill="#fff" stroke="#00f" stroke-width="1.25"/><circle cx="575.20" cy="398.55" r="3.4" fill="#fff" stroke="#00f" stroke-width="1.25"/><circle cx="576.60" cy="395.66" r="3.4" fill="#fff" stroke="#00f" stroke-width="1.25"/><circle cx="578.00" cy="397.62" r="3.4" fill="#fff" stroke="#00f" stroke-width="1.25"/><circle cx="579.40" cy="397.72" r="3.4" fill="#fff" stroke="#00f" stroke-width="1.25"/><circle cx="580.80" cy="398.01" r="3.4" fill="#fff" stroke="#00f" stroke-width="1.25"/><circle cx="582.20" cy="397.78" r="3.4" fill="#fff" stroke="#00f" stroke-width="1.25"/><circle cx="583.60" cy="399.80" r="3.4" fill="#fff" stroke="#00f" stroke-width="1.25"/><circle cx="585.00" cy="398.80" r="3.4" fill="#fff" stroke="#00f" stroke-width="1.25"/><circle cx="586.40" cy="399.17" r="3.4" fill="#fff" stroke="#00f" stroke-width="1.25"/><circle cx="587.80" cy="397.00" r="3.4" fill="#fff" stroke="#00f" stroke-width="1.25"/><circle cx="589.20" cy="394.99" r="3.4" fill="#fff" stroke="#00f" stroke-width="1.25"/><circle cx="590.60" cy="394.22" r="3.4" fill="#fff" stroke="#00f" stroke-width="1.25"/><circle cx="592.00" cy="398.24" r="3.4" fill="#fff" stroke="#00f" stroke-width="1.25"/><circle cx="593.40" cy="400.08" r="3.4" fill="#fff" stroke="#00f" stroke-width="1.25"/><circle cx="594.80" cy="398.43" r="3.4" fill="#fff" stroke="#00f" stroke-width="1.25"/><circle cx="596.20" cy="399.16" r="3.4" fill="#fff" stroke="#00f" stroke-width="1.25"/><circle cx="597.60" cy="395.45" r="3.4" fill="#fff" stroke="#00f" stroke-width="1.25"/><circle cx="599.00" cy="397.31" r="3.4" fill="#fff" stroke="#00f" stroke-width="1.25"/><circle cx="600.40" cy="399.02" r="3.4" fill="#fff" stroke="#00f" stroke-width="1.25"/><circle cx="601.80" cy="396.93" r="3.4" fill="#fff" stroke="#00f" stroke-width="1.25"/><circle cx="603.20" cy="397.48" r="3.4" fill="#fff" stroke="#00f" stroke-width="1.25"/><circle cx="604.60" cy="400.29" r="3.4" fill="#fff" stroke="#00f" stroke-width="1.25"/><circle cx="606.00" cy="398.92" r="3.4" fill="#fff" stroke="#00f" stroke-width="1.25"/><circle cx="607.40" cy="398.58" r="3.4" fill="#fff" stroke="#00f" stroke-width="1.25"/><circle cx="608.80" cy="398.29" r="3.4" fill="#fff" stroke="#00f" stroke-width="1.25"/><circle cx="610.20" cy="398.18" r="3.4" fill="#fff" stroke="#00f" stroke-width="1.25"/><circle cx="611.60" cy="398.81" r="3.4" fill="#fff" stroke="#00f" stroke-width="1.25"/><circle cx="613.00" cy="398.16" r="3.4" fill="#fff" stroke="#00f" stroke-width="1.25"/><circle cx="614.40" cy="399.18" r="3.4" fill="#fff" stroke="#00f" stroke-width="1.25"/><circle cx="615.80" cy="399.61" r="3.4" fill="#fff" stroke="#00f" stroke-width="1.25"/><circle cx="617.20" cy="396.56" r="3.4" fill="#fff" stroke="#00f" stroke-width="1.25"/><circle cx="618.60" cy="398.06" r="3.4" fill="#fff" stroke="#00f" stroke-width="1.25"/><circle cx="620.00" cy="397.99" r="3.4" fill="#fff" stroke="#00f" stroke-width="1.25"/><circle cx="621.40" cy="400.60" r="3.4" fill="#fff" stroke="#00f" stroke-width="1.25"/><circle cx="622.80" cy="398.80" r="3.4" fill="#fff" stroke="#00f" stroke-width="1.25"/><circle cx="624.20" cy="397.57" r="3.4" fill="#fff" stroke="#00f" stroke-width="1.25"/><circle cx="625.60" cy="400.28" r="3.4" fill="#fff" stroke="#00f" stroke-width="1.25"/><circle cx="627.00" cy="397.26" r="3.4" fill="#fff" stroke="#00f" stroke-width="1.25"/><circle cx="628.40" cy="399.17" r="3.4" fill="#fff" stroke="#00f" stroke-width="1.25"/><circle cx="629.80" cy="398.19" r="3.4" fill="#fff" stroke="#00f" stroke-width="1.25"/><circle cx="631.20" cy="398.89" r="3.4" fill="#fff" stroke="#00f" stroke-width="1.25"/><circle cx="632.60" cy="398.46" r="3.4" fill="#fff" stroke="#00f" stroke-width="1.25"/><circle cx="634.00" cy="397.23" r="3.4" fill="#fff" stroke="#00f" stroke-width="1.25"/><circle cx="635.40" cy="399.29" r="3.4" fill="#fff" stroke="#00f" stroke-width="1.25"/><circle cx="636.80" cy="396.81" r="3.4" fill="#fff" stroke="#00f" stroke-width="1.25"/><circle cx="638.20" cy="399.80" r="3.4" fill="#fff" stroke="#00f" stroke-width="1.25"/><circle cx="639.60" cy="400.00" r="3.4" fill="#fff" stroke="#00f" stroke-width="1.25"/><circle cx="641.00" cy="397.94" r="3.4" fill="#fff" stroke="#00f" stroke-width="1.25"/><circle cx="642.40" cy="400.20" r="3.4" fill="#fff" stroke="#00f" stroke-width="1.25"/></g>
<rect x="362.5" y="234.6" width="279.00" height="170.90" fill="none" stroke="#000" stroke-width="1.3"/>
<text x="362.50" y="423.30" font-size="13.5" text-anchor="middle" >3.7</text>
<text x="455.50" y="423.30" font-size="13.5" text-anchor="middle" >3.8</text>
<text x="548.50" y="423.30" font-size="13.5" text-anchor="middle" >3.9</text>
<text x="641.50" y="423.30" font-size="13.5" text-anchor="middle" >4.0</text>
<text x="647.50" y="408.80" font-size="13.5" text-anchor="start" >0.0</text>
<text x="647.50" y="347.76" font-size="13.5" text-anchor="start" >0.5</text>
<text x="647.50" y="286.73" font-size="13.5" text-anchor="start" >1.0</text>
<text x="377.10" y="383.30" font-size="18" text-anchor="start" >(d)</text>
<text transform="translate(15.2,89) rotate(-90)" font-size="17" text-anchor="middle">Counts</text>
<text transform="translate(13.2,315.4) rotate(-90)" font-size="17" text-anchor="middle">Counts</text>
<text transform="translate(671.8,95.2) rotate(90)" font-size="17" text-anchor="middle">Intensity (arb. units)</text>
<text transform="translate(671.8,321) rotate(90)" font-size="17" text-anchor="middle">Intensity (arb. units)</text>
<text x="162.6" y="214.4" font-size="17">2</text>
<text x="172.8" y="214.4" font-size="18" font-style="italic">θ</text>
<text x="191.3" y="214.4" font-size="16.5">(</text>
<text x="196.6" y="204.6" font-size="10.5">o</text>
<text x="202.8" y="214.4" font-size="16.5">)</text>
<text x="162.9" y="445" font-size="17">2</text>
<text x="173.1" y="445" font-size="18" font-style="italic">θ</text>
<text x="191.6" y="445" font-size="16.5">(</text>
<text x="196.9" y="435.2" font-size="10.5">o</text>
<text x="203.1" y="445" font-size="16.5">)</text>
<text x="444" y="215.1" font-size="17">Temperature</text><text x="549.3" y="215.1" font-size="17">(K)</text>
<text x="452.3" y="443.6" font-size="17"><tspan font-style="italic">d</tspan>-spacing (A)</text>
</svg></body></html>
